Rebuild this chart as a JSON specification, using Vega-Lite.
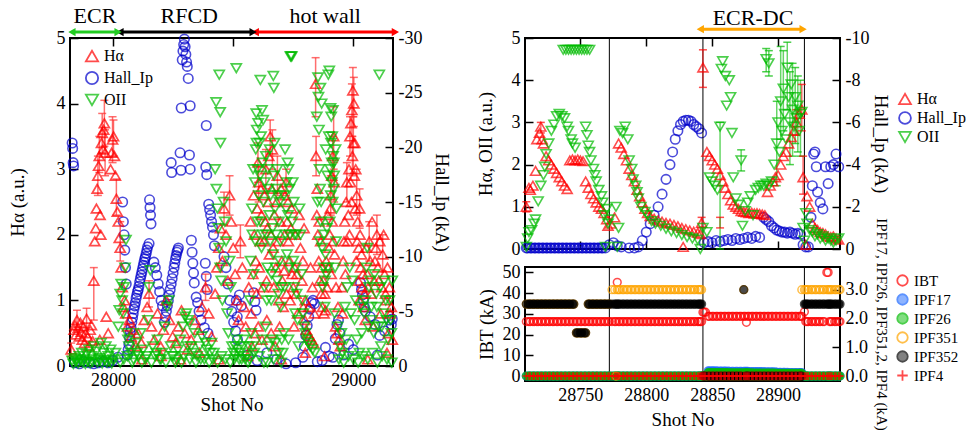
{
"$schema":"https://vega.github.io/schema/vega-lite/v6.json",
"background":"white",
"padding":{"left":7,"top":4,"right":0,"bottom":0},
"config":{
 "font":"Liberation Serif",
 "view":{"stroke":"#000","strokeWidth":2},
 "axis":{"labelFont":"Liberation Serif","titleFont":"Liberation Serif","labelFontSize":18,"titleFontSize":19,"titleFontWeight":"normal","labelFontWeight":"normal","labelColor":"#000","titleColor":"#000","grid":false,"domain":false,"tickColor":"#000","tickWidth":1.5,"tickSize":-8,"labelPadding":13,"titlePadding":6},
 "legend":{"labelFont":"Liberation Serif","labelFontSize":16,"labelColor":"#000","symbolStrokeWidth":1.8,"symbolSize":170,"rowPadding":3},
 "text":{"font":"Liberation Serif"}
},
"datasets":{
 "annL":[{"seg":"ECR","a":27829,"b":28021,"m":27925},{"seg":"RFCD","a":28029,"b":28583,"m":28317},{"seg":"hot wall","a":28592,"b":29175,"m":28883}],
 "annR":[{"seg":"ECR-DC","a":28841,"b":28919,"m":28881}],
 "vl":[{"s":28772},{"s":28843},{"s":28920}],
 "leftErr":[{"s":27826,"lo":0.15,"hi":0.35},{"s":27850,"lo":0.55,"hi":0.85},{"s":27890,"lo":0.58,"hi":0.88},{"s":27920,"lo":0.7,"hi":1.5},{"s":27937,"lo":2.6,"hi":3.2},{"s":27943,"lo":2.95,"hi":3.5},{"s":27955,"lo":3.25,"hi":3.85},{"s":27964,"lo":3.35,"hi":4.05},{"s":27967,"lo":2.9,"hi":3.6},{"s":27998,"lo":3.1,"hi":3.8},{"s":28002,"lo":3.2,"hi":3.75},{"s":28014,"lo":2.3,"hi":2.85},{"s":28030,"lo":1.6,"hi":2.2},{"s":28150,"lo":0.9,"hi":1.3},{"s":28385,"lo":1.0,"hi":1.4},{"s":28462,"lo":2.15,"hi":2.65},{"s":28485,"lo":2.3,"hi":2.9},{"s":28530,"lo":1.65,"hi":2.15},{"s":28606,"lo":2.5,"hi":3.05},{"s":28636,"lo":2.7,"hi":3.3},{"s":28654,"lo":3.2,"hi":3.75},{"s":28684,"lo":2.6,"hi":3.2},{"s":28720,"lo":2.6,"hi":3.0},{"s":28843,"lo":3.8,"hi":4.7},{"s":28906,"lo":2.3,"hi":2.9},{"s":28914,"lo":2.9,"hi":3.5},{"s":28918,"lo":3.0,"hi":3.95},{"s":28986,"lo":3.2,"hi":3.8},{"s":28994,"lo":3.5,"hi":4.3},{"s":28998,"lo":3.8,"hi":4.55},{"s":29002,"lo":3.65,"hi":4.4},{"s":29014,"lo":2.3,"hi":3.0},{"s":29026,"lo":2.1,"hi":2.7},{"s":29066,"lo":1.6,"hi":2.2},{"s":29098,"lo":1.7,"hi":2.3},{"s":29122,"lo":1.45,"hi":2.0},{"s":28996,"lo":2.9,"hi":3.5},{"s":29000,"lo":3.0,"hi":3.8},{"s":28973,"lo":2.5,"hi":3.1},{"s":28920,"lo":2.5,"hi":3.1},{"s":28845,"lo":2.9,"hi":3.5},{"s":28663,"lo":3.0,"hi":3.6},{"s":28603,"lo":2.8,"hi":3.4}],
 "left":[
{"s":27826,"v":0.25,"k":"Hα"},{"s":27838,"v":0.55,"k":"Hα"},{"s":27842,"v":0.62,"k":"Hα"},{"s":27846,"v":0.48,"k":"Hα"},{"s":27850,"v":0.7,"k":"Hα"},{"s":27855,"v":0.58,"k":"Hα"},{"s":27860,"v":0.45,"k":"Hα"},{"s":27864,"v":0.66,"k":"Hα"},{"s":27868,"v":0.52,"k":"Hα"},{"s":27872,"v":0.4,"k":"Hα"},{"s":27877,"v":0.6,"k":"Hα"},{"s":27882,"v":0.35,"k":"Hα"},{"s":27886,"v":0.5,"k":"Hα"},{"s":27890,"v":0.72,"k":"Hα"},{"s":27895,"v":0.44,"k":"Hα"},{"s":27900,"v":0.3,"k":"Hα"},{"s":27905,"v":0.55,"k":"Hα"},{"s":27910,"v":0.62,"k":"Hα"},{"s":27915,"v":0.38,"k":"Hα"},{"s":27945,"v":0.4,"k":"Hα"},{"s":27972,"v":0.75,"k":"Hα"},{"s":27980,"v":0.5,"k":"Hα"},
{"s":27920,"v":1.3,"k":"Hα"},{"s":27924,"v":1.9,"k":"Hα"},{"s":27928,"v":2.1,"k":"Hα"},{"s":27931,"v":2.4,"k":"Hα"},{"s":27934,"v":2.7,"k":"Hα"},{"s":27937,"v":2.9,"k":"Hα"},{"s":27940,"v":3.05,"k":"Hα"},{"s":27943,"v":3.2,"k":"Hα"},{"s":27946,"v":2.3,"k":"Hα"},{"s":27949,"v":2.0,"k":"Hα"},{"s":27952,"v":3.4,"k":"Hα"},{"s":27955,"v":3.55,"k":"Hα"},{"s":27958,"v":3.3,"k":"Hα"},{"s":27961,"v":3.6,"k":"Hα"},{"s":27964,"v":3.7,"k":"Hα"},{"s":27967,"v":3.25,"k":"Hα"},{"s":27990,"v":3.0,"k":"Hα"},{"s":27994,"v":3.25,"k":"Hα"},{"s":27998,"v":3.45,"k":"Hα"},{"s":28002,"v":3.5,"k":"Hα"},{"s":28006,"v":3.2,"k":"Hα"},{"s":28010,"v":2.9,"k":"Hα"},{"s":28014,"v":2.55,"k":"Hα"},{"s":28018,"v":2.35,"k":"Hα"},{"s":28022,"v":2.2,"k":"Hα"},{"s":28026,"v":1.95,"k":"Hα"},{"s":28030,"v":1.8,"k":"Hα"},
{"s":28034,"v":1.5,"k":"Hα"},{"s":28038,"v":1.2,"k":"Hα"},{"s":28043,"v":0.9,"k":"Hα"},{"s":28048,"v":1.0,"k":"Hα"},{"s":28053,"v":0.8,"k":"Hα"},{"s":28060,"v":0.6,"k":"Hα"},{"s":28068,"v":0.7,"k":"Hα"},{"s":28075,"v":0.45,"k":"Hα"},{"s":28085,"v":0.55,"k":"Hα"},{"s":28095,"v":0.3,"k":"Hα"},{"s":28105,"v":0.5,"k":"Hα"},{"s":28118,"v":0.35,"k":"Hα"},{"s":28130,"v":0.7,"k":"Hα"},{"s":28142,"v":0.9,"k":"Hα"},{"s":28150,"v":1.1,"k":"Hα"},{"s":28160,"v":0.6,"k":"Hα"},{"s":28172,"v":0.4,"k":"Hα"},{"s":28185,"v":0.8,"k":"Hα"},{"s":28198,"v":0.3,"k":"Hα"},{"s":28210,"v":0.55,"k":"Hα"},{"s":28222,"v":1.0,"k":"Hα"},{"s":28235,"v":0.7,"k":"Hα"},{"s":28248,"v":0.45,"k":"Hα"},{"s":28260,"v":0.35,"k":"Hα"},{"s":28272,"v":0.6,"k":"Hα"},{"s":28285,"v":0.85,"k":"Hα"},{"s":28298,"v":0.5,"k":"Hα"},{"s":28310,"v":0.25,"k":"Hα"},{"s":28325,"v":0.4,"k":"Hα"},{"s":28340,"v":0.7,"k":"Hα"},{"s":28355,"v":0.55,"k":"Hα"},{"s":28370,"v":0.9,"k":"Hα"},{"s":28385,"v":1.2,"k":"Hα"},{"s":28398,"v":0.8,"k":"Hα"},{"s":28410,"v":0.45,"k":"Hα"},
{"s":28425,"v":1.1,"k":"Hα"},{"s":28432,"v":1.5,"k":"Hα"},{"s":28440,"v":1.8,"k":"Hα"},{"s":28447,"v":2.1,"k":"Hα"},{"s":28455,"v":1.6,"k":"Hα"},{"s":28462,"v":2.4,"k":"Hα"},{"s":28470,"v":2.0,"k":"Hα"},{"s":28478,"v":1.3,"k":"Hα"},{"s":28485,"v":2.6,"k":"Hα"},{"s":28492,"v":2.2,"k":"Hα"},{"s":28500,"v":1.8,"k":"Hα"},{"s":28508,"v":1.4,"k":"Hα"},{"s":28515,"v":1.0,"k":"Hα"},{"s":28522,"v":0.7,"k":"Hα"},{"s":28530,"v":1.9,"k":"Hα"},{"s":28538,"v":1.5,"k":"Hα"},{"s":28545,"v":0.9,"k":"Hα"},{"s":28552,"v":0.6,"k":"Hα"},
{"s":28575,"v":0.8,"k":"Hα"},{"s":28578,"v":0.3,"k":"Hα"},{"s":28582,"v":1.4,"k":"Hα"},{"s":28588,"v":2.0,"k":"Hα"},{"s":28590,"v":0.5,"k":"Hα"},{"s":28594,"v":1.6,"k":"Hα"},{"s":28600,"v":2.4,"k":"Hα"},{"s":28604,"v":0.6,"k":"Hα"},{"s":28606,"v":2.8,"k":"Hα"},{"s":28612,"v":1.9,"k":"Hα"},{"s":28618,"v":2.3,"k":"Hα"},{"s":28620,"v":0.4,"k":"Hα"},{"s":28624,"v":1.2,"k":"Hα"},{"s":28630,"v":2.6,"k":"Hα"},{"s":28636,"v":3.0,"k":"Hα"},{"s":28640,"v":0.7,"k":"Hα"},{"s":28642,"v":2.1,"k":"Hα"},{"s":28648,"v":3.2,"k":"Hα"},{"s":28654,"v":3.5,"k":"Hα"},{"s":28658,"v":0.5,"k":"Hα"},{"s":28660,"v":2.7,"k":"Hα"},{"s":28666,"v":1.8,"k":"Hα"},{"s":28672,"v":2.3,"k":"Hα"},{"s":28675,"v":0.3,"k":"Hα"},{"s":28678,"v":1.5,"k":"Hα"},{"s":28684,"v":2.9,"k":"Hα"},{"s":28690,"v":1.0,"k":"Hα"},{"s":28693,"v":0.6,"k":"Hα"},{"s":28696,"v":2.2,"k":"Hα"},{"s":28702,"v":1.6,"k":"Hα"},{"s":28708,"v":0.9,"k":"Hα"},{"s":28712,"v":1.45,"k":"Hα"},{"s":28716,"v":2.6,"k":"Hα"},{"s":28720,"v":2.8,"k":"Hα"},{"s":28725,"v":2.2,"k":"Hα"},{"s":28730,"v":1.9,"k":"Hα"},{"s":28735,"v":1.6,"k":"Hα"},{"s":28740,"v":2.1,"k":"Hα"},{"s":28745,"v":1.4,"k":"Hα"},{"s":28750,"v":1.2,"k":"Hα"},{"s":28756,"v":1.5,"k":"Hα"},{"s":28762,"v":1.1,"k":"Hα"},{"s":28768,"v":0.8,"k":"Hα"},
{"s":28565,"v":1.2,"k":"Hα"},{"s":28572,"v":2.2,"k":"Hα"},{"s":28585,"v":2.6,"k":"Hα"},{"s":28597,"v":1.1,"k":"Hα"},{"s":28603,"v":3.1,"k":"Hα"},{"s":28609,"v":1.5,"k":"Hα"},{"s":28615,"v":2.7,"k":"Hα"},{"s":28627,"v":1.9,"k":"Hα"},{"s":28633,"v":2.2,"k":"Hα"},{"s":28639,"v":1.3,"k":"Hα"},{"s":28645,"v":2.5,"k":"Hα"},{"s":28651,"v":1.7,"k":"Hα"},{"s":28657,"v":2.0,"k":"Hα"},{"s":28663,"v":3.3,"k":"Hα"},{"s":28669,"v":1.2,"k":"Hα"},{"s":28681,"v":2.5,"k":"Hα"},{"s":28687,"v":1.9,"k":"Hα"},{"s":28699,"v":2.7,"k":"Hα"},{"s":28705,"v":1.3,"k":"Hα"},{"s":28714,"v":2.0,"k":"Hα"},{"s":28722,"v":1.1,"k":"Hα"},{"s":28728,"v":2.5,"k":"Hα"},{"s":28737,"v":1.0,"k":"Hα"},{"s":28743,"v":2.4,"k":"Hα"},{"s":28753,"v":0.6,"k":"Hα"},{"s":28759,"v":2.0,"k":"Hα"},{"s":28765,"v":1.4,"k":"Hα"},
{"s":28774,"v":2.3,"k":"Hα"},{"s":28780,"v":1.8,"k":"Hα"},{"s":28786,"v":1.3,"k":"Hα"},{"s":28792,"v":0.9,"k":"Hα"},{"s":28798,"v":0.7,"k":"Hα"},{"s":28804,"v":0.55,"k":"Hα"},{"s":28810,"v":0.5,"k":"Hα"},{"s":28818,"v":0.45,"k":"Hα"},{"s":28826,"v":0.4,"k":"Hα"},{"s":28834,"v":0.35,"k":"Hα"},{"s":28843,"v":4.3,"k":"Hα"},{"s":28848,"v":2.3,"k":"Hα"},{"s":28852,"v":2.0,"k":"Hα"},{"s":28856,"v":1.6,"k":"Hα"},{"s":28860,"v":1.3,"k":"Hα"},{"s":28866,"v":1.1,"k":"Hα"},{"s":28872,"v":0.9,"k":"Hα"},{"s":28878,"v":0.8,"k":"Hα"},{"s":28884,"v":0.85,"k":"Hα"},{"s":28890,"v":1.2,"k":"Hα"},{"s":28896,"v":1.5,"k":"Hα"},{"s":28902,"v":2.0,"k":"Hα"},{"s":28906,"v":2.6,"k":"Hα"},{"s":28910,"v":2.9,"k":"Hα"},{"s":28914,"v":3.2,"k":"Hα"},{"s":28918,"v":3.5,"k":"Hα"},{"s":28922,"v":1.7,"k":"Hα"},{"s":28926,"v":0.6,"k":"Hα"},{"s":28932,"v":0.5,"k":"Hα"},{"s":28940,"v":0.4,"k":"Hα"},{"s":28946,"v":0.3,"k":"Hα"},
{"s":28790,"v":1.6,"k":"Hα"},{"s":28795,"v":2.1,"k":"Hα"},{"s":28800,"v":1.0,"k":"Hα"},{"s":28815,"v":0.9,"k":"Hα"},{"s":28822,"v":1.5,"k":"Hα"},{"s":28830,"v":1.2,"k":"Hα"},{"s":28838,"v":0.8,"k":"Hα"},{"s":28845,"v":3.2,"k":"Hα"},{"s":28850,"v":2.7,"k":"Hα"},{"s":28858,"v":2.2,"k":"Hα"},{"s":28864,"v":1.9,"k":"Hα"},{"s":28869,"v":1.5,"k":"Hα"},{"s":28875,"v":1.3,"k":"Hα"},{"s":28881,"v":1.1,"k":"Hα"},{"s":28887,"v":1.6,"k":"Hα"},{"s":28893,"v":2.3,"k":"Hα"},{"s":28899,"v":1.8,"k":"Hα"},{"s":28904,"v":2.4,"k":"Hα"},{"s":28908,"v":1.4,"k":"Hα"},{"s":28912,"v":2.2,"k":"Hα"},{"s":28916,"v":1.9,"k":"Hα"},{"s":28920,"v":2.8,"k":"Hα"},{"s":28928,"v":1.2,"k":"Hα"},{"s":28936,"v":0.9,"k":"Hα"},
{"s":28952,"v":1.2,"k":"Hα"},{"s":28958,"v":1.6,"k":"Hα"},{"s":28964,"v":2.2,"k":"Hα"},{"s":28970,"v":2.5,"k":"Hα"},{"s":28976,"v":1.9,"k":"Hα"},{"s":28982,"v":3.0,"k":"Hα"},{"s":28986,"v":3.5,"k":"Hα"},{"s":28990,"v":3.7,"k":"Hα"},{"s":28994,"v":3.9,"k":"Hα"},{"s":28998,"v":4.2,"k":"Hα"},{"s":29002,"v":4.0,"k":"Hα"},{"s":29006,"v":3.4,"k":"Hα"},{"s":29010,"v":3.0,"k":"Hα"},{"s":29014,"v":2.6,"k":"Hα"},{"s":29018,"v":2.2,"k":"Hα"},{"s":29022,"v":1.8,"k":"Hα"},{"s":29026,"v":2.4,"k":"Hα"},{"s":29030,"v":1.5,"k":"Hα"},{"s":29036,"v":1.2,"k":"Hα"},{"s":29042,"v":0.9,"k":"Hα"},{"s":29050,"v":0.7,"k":"Hα"},{"s":29058,"v":1.4,"k":"Hα"},{"s":29066,"v":1.9,"k":"Hα"},{"s":29074,"v":1.1,"k":"Hα"},{"s":29082,"v":0.6,"k":"Hα"},{"s":29090,"v":1.6,"k":"Hα"},{"s":29098,"v":2.0,"k":"Hα"},{"s":29106,"v":1.3,"k":"Hα"},{"s":29114,"v":0.8,"k":"Hα"},{"s":29122,"v":1.7,"k":"Hα"},{"s":29130,"v":1.4,"k":"Hα"},{"s":29138,"v":1.0,"k":"Hα"},{"s":29146,"v":0.5,"k":"Hα"},{"s":29154,"v":0.8,"k":"Hα"},{"s":29162,"v":0.4,"k":"Hα"},
{"s":28955,"v":0.8,"k":"Hα"},{"s":28961,"v":1.9,"k":"Hα"},{"s":28967,"v":1.4,"k":"Hα"},{"s":28973,"v":2.8,"k":"Hα"},{"s":28979,"v":2.3,"k":"Hα"},{"s":28984,"v":2.0,"k":"Hα"},{"s":28988,"v":2.8,"k":"Hα"},{"s":28992,"v":2.5,"k":"Hα"},{"s":28996,"v":3.2,"k":"Hα"},{"s":29000,"v":3.4,"k":"Hα"},{"s":29004,"v":2.9,"k":"Hα"},{"s":29008,"v":2.4,"k":"Hα"},{"s":29012,"v":1.6,"k":"Hα"},{"s":29016,"v":1.9,"k":"Hα"},{"s":29020,"v":1.3,"k":"Hα"},{"s":29024,"v":1.0,"k":"Hα"},{"s":29028,"v":2.0,"k":"Hα"},{"s":29034,"v":1.7,"k":"Hα"},{"s":29040,"v":1.4,"k":"Hα"},{"s":29046,"v":1.1,"k":"Hα"},{"s":29054,"v":1.8,"k":"Hα"},{"s":29062,"v":1.2,"k":"Hα"},{"s":29070,"v":1.6,"k":"Hα"},{"s":29078,"v":2.2,"k":"Hα"},{"s":29086,"v":1.3,"k":"Hα"},{"s":29094,"v":1.8,"k":"Hα"},{"s":29102,"v":1.5,"k":"Hα"},{"s":29110,"v":1.9,"k":"Hα"},{"s":29118,"v":1.2,"k":"Hα"},{"s":29126,"v":2.0,"k":"Hα"},{"s":29134,"v":1.1,"k":"Hα"},{"s":29142,"v":1.5,"k":"Hα"},{"s":29150,"v":1.2,"k":"Hα"},{"s":29158,"v":0.9,"k":"Hα"},
{"s":28120,"v":0.1,"k":"Hα"},{"s":28200,"v":0.15,"k":"Hα"},{"s":28280,"v":0.1,"k":"Hα"},{"s":28360,"v":0.2,"k":"Hα"},{"s":28440,"v":0.1,"k":"Hα"},{"s":28560,"v":0.15,"k":"Hα"},{"s":28700,"v":0.1,"k":"Hα"},{"s":28800,"v":0.2,"k":"Hα"},{"s":28880,"v":0.15,"k":"Hα"},{"s":29060,"v":0.1,"k":"Hα"},{"s":29140,"v":0.2,"k":"Hα"},
{"s":27830,"v":-20.4,"k":"Hall_Ip"},{"s":27832,"v":-19.9,"k":"Hall_Ip"},{"s":27834,"v":-18.6,"k":"Hall_Ip"},{"s":27836,"v":-18.3,"k":"Hall_Ip"},{"s":27840,"v":-0.3,"k":"Hall_Ip"},{"s":27860,"v":-0.2,"k":"Hall_Ip"},{"s":27880,"v":-0.4,"k":"Hall_Ip"},{"s":27900,"v":-0.3,"k":"Hall_Ip"},{"s":27920,"v":-0.2,"k":"Hall_Ip"},{"s":27940,"v":-0.3,"k":"Hall_Ip"},{"s":27960,"v":-0.4,"k":"Hall_Ip"},{"s":27980,"v":-0.3,"k":"Hall_Ip"},{"s":28000,"v":-0.5,"k":"Hall_Ip"},{"s":28020,"v":-0.8,"k":"Hall_Ip"},
{"s":28040,"v":-15.0,"k":"Hall_Ip"},{"s":28043,"v":-13.2,"k":"Hall_Ip"},{"s":28046,"v":-12.0,"k":"Hall_Ip"},{"s":28049,"v":-10.6,"k":"Hall_Ip"},{"s":28052,"v":-9.0,"k":"Hall_Ip"},{"s":28055,"v":-7.5,"k":"Hall_Ip"},
{"s":28060,"v":-1.0,"k":"Hall_Ip"},{"s":28066,"v":-2.0,"k":"Hall_Ip"},{"s":28072,"v":-3.1,"k":"Hall_Ip"},{"s":28078,"v":-4.0,"k":"Hall_Ip"},{"s":28084,"v":-4.8,"k":"Hall_Ip"},{"s":28090,"v":-5.5,"k":"Hall_Ip"},{"s":28096,"v":-6.2,"k":"Hall_Ip"},{"s":28102,"v":-6.8,"k":"Hall_Ip"},{"s":28108,"v":-7.3,"k":"Hall_Ip"},{"s":28114,"v":-8.0,"k":"Hall_Ip"},{"s":28120,"v":-8.6,"k":"Hall_Ip"},{"s":28126,"v":-9.2,"k":"Hall_Ip"},{"s":28132,"v":-9.8,"k":"Hall_Ip"},{"s":28138,"v":-10.3,"k":"Hall_Ip"},{"s":28144,"v":-10.9,"k":"Hall_Ip"},{"s":28150,"v":-11.2,"k":"Hall_Ip"},
{"s":28063,"v":-1.5,"k":"Hall_Ip"},{"s":28069,"v":-2.6,"k":"Hall_Ip"},{"s":28075,"v":-3.5,"k":"Hall_Ip"},{"s":28081,"v":-4.4,"k":"Hall_Ip"},{"s":28087,"v":-5.2,"k":"Hall_Ip"},{"s":28093,"v":-5.8,"k":"Hall_Ip"},{"s":28099,"v":-6.5,"k":"Hall_Ip"},{"s":28105,"v":-7.0,"k":"Hall_Ip"},{"s":28111,"v":-7.7,"k":"Hall_Ip"},{"s":28117,"v":-8.3,"k":"Hall_Ip"},{"s":28123,"v":-8.9,"k":"Hall_Ip"},{"s":28129,"v":-9.5,"k":"Hall_Ip"},{"s":28135,"v":-10.0,"k":"Hall_Ip"},{"s":28141,"v":-10.6,"k":"Hall_Ip"},
{"s":28152,"v":-15.2,"k":"Hall_Ip"},{"s":28154,"v":-14.5,"k":"Hall_Ip"},{"s":28156,"v":-13.8,"k":"Hall_Ip"},{"s":28158,"v":-13.0,"k":"Hall_Ip"},
{"s":28170,"v":-9.5,"k":"Hall_Ip"},{"s":28176,"v":-9.0,"k":"Hall_Ip"},{"s":28182,"v":-8.3,"k":"Hall_Ip"},{"s":28188,"v":-7.5,"k":"Hall_Ip"},{"s":28194,"v":-6.8,"k":"Hall_Ip"},{"s":28200,"v":-6.0,"k":"Hall_Ip"},{"s":28206,"v":-5.5,"k":"Hall_Ip"},
{"s":28214,"v":-4.0,"k":"Hall_Ip"},{"s":28222,"v":-5.0,"k":"Hall_Ip"},{"s":28230,"v":-6.0,"k":"Hall_Ip"},{"s":28238,"v":-7.0,"k":"Hall_Ip"},{"s":28246,"v":-8.0,"k":"Hall_Ip"},{"s":28254,"v":-9.0,"k":"Hall_Ip"},{"s":28260,"v":-9.8,"k":"Hall_Ip"},{"s":28266,"v":-10.4,"k":"Hall_Ip"},{"s":28272,"v":-10.8,"k":"Hall_Ip"},
{"s":28218,"v":-4.5,"k":"Hall_Ip"},{"s":28226,"v":-5.5,"k":"Hall_Ip"},{"s":28234,"v":-6.5,"k":"Hall_Ip"},{"s":28242,"v":-7.5,"k":"Hall_Ip"},{"s":28250,"v":-8.5,"k":"Hall_Ip"},{"s":28257,"v":-9.4,"k":"Hall_Ip"},{"s":28263,"v":-10.1,"k":"Hall_Ip"},{"s":28269,"v":-10.6,"k":"Hall_Ip"},
{"s":28242,"v":-18.6,"k":"Hall_Ip"},{"s":28244,"v":-17.7,"k":"Hall_Ip"},{"s":28279,"v":-19.5,"k":"Hall_Ip"},{"s":28283,"v":-17.9,"k":"Hall_Ip"},{"s":28318,"v":-19.3,"k":"Hall_Ip"},{"s":28321,"v":-18.0,"k":"Hall_Ip"},
{"s":28284,"v":-23.6,"k":"Hall_Ip"},{"s":28288,"v":-28.0,"k":"Hall_Ip"},{"s":28291,"v":-28.8,"k":"Hall_Ip"},{"s":28294,"v":-29.4,"k":"Hall_Ip"},{"s":28297,"v":-29.9,"k":"Hall_Ip"},{"s":28300,"v":-29.2,"k":"Hall_Ip"},{"s":28303,"v":-28.5,"k":"Hall_Ip"},{"s":28306,"v":-27.8,"k":"Hall_Ip"},{"s":28309,"v":-27.4,"k":"Hall_Ip"},{"s":28313,"v":-26.3,"k":"Hall_Ip"},{"s":28321,"v":-23.8,"k":"Hall_Ip"},{"s":28388,"v":-22.0,"k":"Hall_Ip"},
{"s":28326,"v":-11.5,"k":"Hall_Ip"},{"s":28329,"v":-10.4,"k":"Hall_Ip"},{"s":28332,"v":-9.4,"k":"Hall_Ip"},{"s":28335,"v":-8.5,"k":"Hall_Ip"},{"s":28338,"v":-7.6,"k":"Hall_Ip"},
{"s":28386,"v":-18.2,"k":"Hall_Ip"},{"s":28390,"v":-17.5,"k":"Hall_Ip"},{"s":28384,"v":-9.4,"k":"Hall_Ip"},{"s":28388,"v":-8.2,"k":"Hall_Ip"},{"s":28392,"v":-7.0,"k":"Hall_Ip"},{"s":28346,"v":-6.3,"k":"Hall_Ip"},{"s":28352,"v":-5.8,"k":"Hall_Ip"},
{"s":28398,"v":-14.8,"k":"Hall_Ip"},{"s":28402,"v":-14.3,"k":"Hall_Ip"},{"s":28406,"v":-13.8,"k":"Hall_Ip"},{"s":28410,"v":-13.2,"k":"Hall_Ip"},{"s":28414,"v":-12.7,"k":"Hall_Ip"},{"s":28418,"v":-12.0,"k":"Hall_Ip"},{"s":28422,"v":-11.0,"k":"Hall_Ip"},
{"s":28358,"v":-5.0,"k":"Hall_Ip"},{"s":28366,"v":-4.2,"k":"Hall_Ip"},{"s":28380,"v":-3.5,"k":"Hall_Ip"},{"s":28395,"v":-3.0,"k":"Hall_Ip"},
{"s":28462,"v":-10.0,"k":"Hall_Ip"},{"s":28470,"v":-9.0,"k":"Hall_Ip"},{"s":28478,"v":-7.5,"k":"Hall_Ip"},{"s":28486,"v":-6.0,"k":"Hall_Ip"},{"s":28494,"v":-5.0,"k":"Hall_Ip"},{"s":28502,"v":-4.0,"k":"Hall_Ip"},{"s":28510,"v":-3.2,"k":"Hall_Ip"},{"s":28518,"v":-2.4,"k":"Hall_Ip"},{"s":28526,"v":-6.5,"k":"Hall_Ip"},{"s":28534,"v":-5.5,"k":"Hall_Ip"},{"s":28513,"v":-6.0,"k":"Hall_Ip"},{"s":28517,"v":-4.5,"k":"Hall_Ip"},
{"s":28585,"v":-6.7,"k":"Hall_Ip"},{"s":28590,"v":-5.9,"k":"Hall_Ip"},{"s":28595,"v":-5.1,"k":"Hall_Ip"},
{"s":28560,"v":-1.0,"k":"Hall_Ip"},{"s":28600,"v":-0.5,"k":"Hall_Ip"},{"s":28640,"v":-1.2,"k":"Hall_Ip"},{"s":28680,"v":-0.6,"k":"Hall_Ip"},{"s":28720,"v":-0.2,"k":"Hall_Ip"},{"s":28760,"v":-0.3,"k":"Hall_Ip"},
{"s":28790,"v":-0.8,"k":"Hall_Ip"},{"s":28796,"v":-1.8,"k":"Hall_Ip"},{"s":28802,"v":-2.8,"k":"Hall_Ip"},{"s":28808,"v":-3.7,"k":"Hall_Ip"},{"s":28814,"v":-4.5,"k":"Hall_Ip"},{"s":28820,"v":-5.2,"k":"Hall_Ip"},{"s":28826,"v":-5.8,"k":"Hall_Ip"},{"s":28832,"v":-6.0,"k":"Hall_Ip"},{"s":28838,"v":-5.7,"k":"Hall_Ip"},{"s":28850,"v":-0.4,"k":"Hall_Ip"},{"s":28870,"v":-0.5,"k":"Hall_Ip"},{"s":28884,"v":-1.7,"k":"Hall_Ip"},{"s":28900,"v":-0.9,"k":"Hall_Ip"},{"s":28915,"v":-0.8,"k":"Hall_Ip"},{"s":28925,"v":-2.5,"k":"Hall_Ip"},{"s":28932,"v":-3.8,"k":"Hall_Ip"},{"s":28938,"v":-4.2,"k":"Hall_Ip"},{"s":28944,"v":-3.0,"k":"Hall_Ip"},
{"s":28960,"v":-1.0,"k":"Hall_Ip"},{"s":28980,"v":-2.0,"k":"Hall_Ip"},{"s":29000,"v":-1.5,"k":"Hall_Ip"},
{"s":29030,"v":-7.6,"k":"Hall_Ip"},{"s":29034,"v":-7.0,"k":"Hall_Ip"},{"s":29038,"v":-6.5,"k":"Hall_Ip"},{"s":29042,"v":-6.0,"k":"Hall_Ip"},{"s":29046,"v":-5.4,"k":"Hall_Ip"},{"s":29050,"v":-5.0,"k":"Hall_Ip"},{"s":29070,"v":-4.5,"k":"Hall_Ip"},{"s":29090,"v":-3.8,"k":"Hall_Ip"},{"s":29100,"v":-1.0,"k":"Hall_Ip"},{"s":29110,"v":-2.8,"k":"Hall_Ip"},{"s":29130,"v":-3.2,"k":"Hall_Ip"},{"s":29150,"v":-4.2,"k":"Hall_Ip"},{"s":29158,"v":-3.8,"k":"Hall_Ip"},{"s":29162,"v":-4.3,"k":"Hall_Ip"},
{"s":27830,"v":0.08,"k":"OII"},{"s":27840,"v":0.12,"k":"OII"},{"s":27850,"v":0.1,"k":"OII"},{"s":27860,"v":0.15,"k":"OII"},{"s":27870,"v":0.2,"k":"OII"},{"s":27880,"v":0.1,"k":"OII"},{"s":27890,"v":0.18,"k":"OII"},{"s":27900,"v":0.25,"k":"OII"},{"s":27910,"v":0.15,"k":"OII"},{"s":27920,"v":0.3,"k":"OII"},{"s":27930,"v":0.22,"k":"OII"},{"s":27940,"v":0.12,"k":"OII"},{"s":27950,"v":0.35,"k":"OII"},{"s":27960,"v":0.2,"k":"OII"},{"s":27970,"v":0.3,"k":"OII"},{"s":27980,"v":0.15,"k":"OII"},{"s":27990,"v":0.25,"k":"OII"},{"s":28000,"v":0.1,"k":"OII"},{"s":28010,"v":0.2,"k":"OII"},
{"s":27835,"v":0.03,"k":"OII"},{"s":27845,"v":0.06,"k":"OII"},{"s":27855,"v":0.04,"k":"OII"},{"s":27865,"v":0.08,"k":"OII"},{"s":27875,"v":0.05,"k":"OII"},{"s":27885,"v":0.03,"k":"OII"},{"s":27895,"v":0.07,"k":"OII"},{"s":27905,"v":0.04,"k":"OII"},{"s":27915,"v":0.06,"k":"OII"},{"s":27925,"v":0.1,"k":"OII"},{"s":27935,"v":0.05,"k":"OII"},{"s":27945,"v":0.08,"k":"OII"},{"s":27955,"v":0.04,"k":"OII"},{"s":27965,"v":0.09,"k":"OII"},{"s":27975,"v":0.05,"k":"OII"},{"s":27985,"v":0.07,"k":"OII"},{"s":27995,"v":0.04,"k":"OII"},
{"s":28022,"v":0.6,"k":"OII"},{"s":28026,"v":0.85,"k":"OII"},{"s":28030,"v":1.1,"k":"OII"},{"s":28034,"v":1.25,"k":"OII"},{"s":28038,"v":1.0,"k":"OII"},{"s":28042,"v":0.8,"k":"OII"},{"s":28046,"v":1.2,"k":"OII"},{"s":28050,"v":1.5,"k":"OII"},{"s":28054,"v":1.92,"k":"OII"},{"s":28058,"v":0.5,"k":"OII"},{"s":28062,"v":0.4,"k":"OII"},{"s":28066,"v":0.3,"k":"OII"},
{"s":28075,"v":0.2,"k":"OII"},{"s":28085,"v":0.1,"k":"OII"},{"s":28095,"v":0.35,"k":"OII"},{"s":28105,"v":0.15,"k":"OII"},{"s":28115,"v":0.5,"k":"OII"},{"s":28125,"v":0.25,"k":"OII"},{"s":28135,"v":0.1,"k":"OII"},{"s":28145,"v":0.7,"k":"OII"},{"s":28150,"v":1.2,"k":"OII"},{"s":28155,"v":1.46,"k":"OII"},{"s":28165,"v":0.3,"k":"OII"},{"s":28175,"v":0.15,"k":"OII"},{"s":28185,"v":0.4,"k":"OII"},{"s":28195,"v":0.1,"k":"OII"},{"s":28205,"v":0.2,"k":"OII"},{"s":28215,"v":0.6,"k":"OII"},{"s":28225,"v":0.9,"k":"OII"},{"s":28232,"v":1.0,"k":"OII"},{"s":28240,"v":0.3,"k":"OII"},{"s":28250,"v":0.15,"k":"OII"},{"s":28260,"v":0.05,"k":"OII"},{"s":28270,"v":0.25,"k":"OII"},{"s":28280,"v":0.4,"k":"OII"},{"s":28290,"v":0.6,"k":"OII"},{"s":28300,"v":0.75,"k":"OII"},{"s":28305,"v":0.8,"k":"OII"},{"s":28312,"v":0.7,"k":"OII"},{"s":28318,"v":0.65,"k":"OII"},{"s":28310,"v":0.3,"k":"OII"},{"s":28320,"v":0.1,"k":"OII"},{"s":28330,"v":0.2,"k":"OII"},{"s":28340,"v":0.5,"k":"OII"},{"s":28350,"v":0.15,"k":"OII"},{"s":28360,"v":0.3,"k":"OII"},{"s":28370,"v":0.45,"k":"OII"},{"s":28380,"v":0.1,"k":"OII"},{"s":28390,"v":0.25,"k":"OII"},{"s":28400,"v":0.05,"k":"OII"},{"s":28410,"v":0.35,"k":"OII"},{"s":28420,"v":0.2,"k":"OII"},
{"s":28030,"v":0.05,"k":"OII"},{"s":28045,"v":0.1,"k":"OII"},{"s":28060,"v":0.15,"k":"OII"},{"s":28080,"v":0.05,"k":"OII"},{"s":28100,"v":0.2,"k":"OII"},{"s":28120,"v":0.05,"k":"OII"},{"s":28140,"v":0.15,"k":"OII"},{"s":28160,"v":0.05,"k":"OII"},{"s":28180,"v":0.2,"k":"OII"},{"s":28200,"v":0.1,"k":"OII"},{"s":28220,"v":0.05,"k":"OII"},{"s":28245,"v":0.15,"k":"OII"},{"s":28265,"v":0.1,"k":"OII"},{"s":28285,"v":0.05,"k":"OII"},{"s":28295,"v":0.15,"k":"OII"},{"s":28325,"v":0.3,"k":"OII"},{"s":28345,"v":0.05,"k":"OII"},{"s":28365,"v":0.1,"k":"OII"},{"s":28385,"v":0.35,"k":"OII"},{"s":28405,"v":0.2,"k":"OII"},{"s":28415,"v":0.1,"k":"OII"},{"s":28435,"v":0.05,"k":"OII"},{"s":28452,"v":0.15,"k":"OII"},{"s":28468,"v":0.1,"k":"OII"},{"s":28488,"v":0.05,"k":"OII"},{"s":28508,"v":0.3,"k":"OII"},{"s":28535,"v":0.1,"k":"OII"},{"s":28545,"v":0.4,"k":"OII"},{"s":28555,"v":0.15,"k":"OII"},{"s":28562,"v":0.05,"k":"OII"},
{"s":28425,"v":3.0,"k":"OII"},{"s":28430,"v":2.7,"k":"OII"},{"s":28434,"v":2.4,"k":"OII"},{"s":28438,"v":2.1,"k":"OII"},{"s":28442,"v":1.8,"k":"OII"},{"s":28446,"v":1.5,"k":"OII"},{"s":28450,"v":1.3,"k":"OII"},{"s":28455,"v":1.0,"k":"OII"},{"s":28460,"v":2.5,"k":"OII"},{"s":28465,"v":2.2,"k":"OII"},{"s":28470,"v":1.9,"k":"OII"},{"s":28475,"v":0.8,"k":"OII"},{"s":28480,"v":0.5,"k":"OII"},{"s":28485,"v":1.6,"k":"OII"},{"s":28490,"v":1.2,"k":"OII"},{"s":28495,"v":0.3,"k":"OII"},{"s":28500,"v":0.2,"k":"OII"},{"s":28505,"v":0.1,"k":"OII"},{"s":28510,"v":0.15,"k":"OII"},{"s":28515,"v":0.4,"k":"OII"},{"s":28520,"v":0.25,"k":"OII"},{"s":28525,"v":0.1,"k":"OII"},{"s":28530,"v":0.2,"k":"OII"},{"s":28540,"v":0.3,"k":"OII"},{"s":28550,"v":0.1,"k":"OII"},
{"s":28429,"v":4.02,"k":"OII"},{"s":28442,"v":4.44,"k":"OII"},{"s":28446,"v":3.87,"k":"OII"},{"s":28447,"v":3.4,"k":"OII"},{"s":28513,"v":4.54,"k":"OII"},
{"s":28596,"v":3.85,"k":"OII"},{"s":28613,"v":4.36,"k":"OII"},{"s":28625,"v":3.75,"k":"OII"},{"s":28620,"v":3.9,"k":"OII"},{"s":28667,"v":4.42,"k":"OII"},{"s":28669,"v":4.24,"k":"OII"},{"s":28597,"v":3.4,"k":"OII"},
{"s":28565,"v":0.3,"k":"OII"},{"s":28570,"v":1.0,"k":"OII"},{"s":28575,"v":0.5,"k":"OII"},{"s":28580,"v":2.0,"k":"OII"},{"s":28585,"v":1.4,"k":"OII"},{"s":28590,"v":2.8,"k":"OII"},{"s":28594,"v":3.3,"k":"OII"},{"s":28598,"v":3.6,"k":"OII"},{"s":28602,"v":3.0,"k":"OII"},{"s":28606,"v":2.6,"k":"OII"},{"s":28610,"v":3.4,"k":"OII"},{"s":28614,"v":2.2,"k":"OII"},{"s":28618,"v":1.8,"k":"OII"},{"s":28622,"v":3.1,"k":"OII"},{"s":28626,"v":2.5,"k":"OII"},{"s":28630,"v":1.2,"k":"OII"},{"s":28634,"v":0.6,"k":"OII"},{"s":28638,"v":2.0,"k":"OII"},{"s":28642,"v":1.5,"k":"OII"},{"s":28646,"v":2.7,"k":"OII"},{"s":28650,"v":2.3,"k":"OII"},{"s":28654,"v":1.9,"k":"OII"},{"s":28658,"v":1.0,"k":"OII"},{"s":28662,"v":0.4,"k":"OII"},{"s":28666,"v":1.7,"k":"OII"},{"s":28670,"v":2.9,"k":"OII"},{"s":28674,"v":2.4,"k":"OII"},{"s":28678,"v":2.0,"k":"OII"},{"s":28682,"v":1.3,"k":"OII"},{"s":28686,"v":2.6,"k":"OII"},{"s":28690,"v":2.2,"k":"OII"},{"s":28694,"v":1.6,"k":"OII"},{"s":28698,"v":0.9,"k":"OII"},{"s":28702,"v":0.4,"k":"OII"},{"s":28706,"v":0.2,"k":"OII"},{"s":28710,"v":0.5,"k":"OII"},{"s":28714,"v":1.2,"k":"OII"},{"s":28718,"v":2.0,"k":"OII"},{"s":28722,"v":2.8,"k":"OII"},{"s":28726,"v":3.1,"k":"OII"},{"s":28730,"v":3.0,"k":"OII"},{"s":28734,"v":2.7,"k":"OII"},{"s":28738,"v":4.72,"k":"OII"},{"s":28741,"v":4.72,"k":"OII"},{"s":28744,"v":4.72,"k":"OII"},{"s":28748,"v":2.8,"k":"OII"},{"s":28752,"v":2.5,"k":"OII"},{"s":28756,"v":2.0,"k":"OII"},{"s":28760,"v":1.5,"k":"OII"},{"s":28764,"v":1.1,"k":"OII"},{"s":28768,"v":0.7,"k":"OII"},{"s":28772,"v":0.3,"k":"OII"},{"s":28776,"v":2.4,"k":"OII"},{"s":28780,"v":2.0,"k":"OII"},{"s":28784,"v":1.4,"k":"OII"},{"s":28788,"v":1.0,"k":"OII"},{"s":28792,"v":0.8,"k":"OII"},{"s":28796,"v":0.6,"k":"OII"},{"s":28800,"v":0.5,"k":"OII"},{"s":28805,"v":0.4,"k":"OII"},{"s":28812,"v":0.35,"k":"OII"},{"s":28820,"v":0.3,"k":"OII"},{"s":28830,"v":0.25,"k":"OII"},{"s":28840,"v":0.2,"k":"OII"},
{"s":28572,"v":1.6,"k":"OII"},{"s":28578,"v":2.4,"k":"OII"},{"s":28583,"v":3.0,"k":"OII"},{"s":28592,"v":1.9,"k":"OII"},{"s":28600,"v":2.2,"k":"OII"},{"s":28604,"v":3.7,"k":"OII"},{"s":28612,"v":2.9,"k":"OII"},{"s":28616,"v":3.5,"k":"OII"},{"s":28624,"v":2.0,"k":"OII"},{"s":28632,"v":2.8,"k":"OII"},{"s":28636,"v":3.2,"k":"OII"},{"s":28640,"v":1.0,"k":"OII"},{"s":28644,"v":3.0,"k":"OII"},{"s":28652,"v":3.3,"k":"OII"},{"s":28656,"v":2.6,"k":"OII"},{"s":28660,"v":1.4,"k":"OII"},{"s":28664,"v":2.1,"k":"OII"},{"s":28672,"v":3.4,"k":"OII"},{"s":28676,"v":1.5,"k":"OII"},{"s":28680,"v":2.7,"k":"OII"},{"s":28684,"v":3.0,"k":"OII"},{"s":28688,"v":1.1,"k":"OII"},{"s":28692,"v":2.5,"k":"OII"},{"s":28696,"v":1.9,"k":"OII"},{"s":28700,"v":1.2,"k":"OII"},{"s":28712,"v":2.6,"k":"OII"},{"s":28716,"v":3.3,"k":"OII"},{"s":28720,"v":2.4,"k":"OII"},{"s":28724,"v":1.7,"k":"OII"},{"s":28728,"v":2.3,"k":"OII"},{"s":28732,"v":1.5,"k":"OII"},{"s":28736,"v":2.0,"k":"OII"},{"s":28746,"v":2.2,"k":"OII"},{"s":28750,"v":1.6,"k":"OII"},{"s":28754,"v":1.2,"k":"OII"},{"s":28758,"v":0.8,"k":"OII"},{"s":28762,"v":2.0,"k":"OII"},
{"s":28568,"v":0.1,"k":"OII"},{"s":28588,"v":0.2,"k":"OII"},{"s":28608,"v":0.15,"k":"OII"},{"s":28628,"v":0.05,"k":"OII"},{"s":28648,"v":0.3,"k":"OII"},{"s":28668,"v":0.1,"k":"OII"},{"s":28688,"v":0.2,"k":"OII"},{"s":28582,"v":0.3,"k":"OII"},{"s":28618,"v":0.4,"k":"OII"},{"s":28642,"v":0.05,"k":"OII"},{"s":28676,"v":0.35,"k":"OII"},{"s":28700,"v":0.05,"k":"OII"},{"s":28730,"v":0.4,"k":"OII"},
{"s":28853,"v":4.4,"k":"OII"},{"s":28855,"v":4.1,"k":"OII"},{"s":28857,"v":3.6,"k":"OII"},{"s":28859,"v":3.0,"k":"OII"},{"s":28862,"v":2.7,"k":"OII"},{"s":28866,"v":2.5,"k":"OII"},{"s":28870,"v":1.8,"k":"OII"},{"s":28876,"v":1.5,"k":"OII"},{"s":28882,"v":1.3,"k":"OII"},{"s":28888,"v":1.4,"k":"OII"},{"s":28894,"v":1.5,"k":"OII"},{"s":28900,"v":4.5,"k":"OII"},{"s":28904,"v":3.0,"k":"OII"},{"s":28908,"v":3.8,"k":"OII"},{"s":28912,"v":3.5,"k":"OII"},{"s":28916,"v":3.2,"k":"OII"},{"s":28918,"v":2.7,"k":"OII"},{"s":28922,"v":0.8,"k":"OII"},{"s":28863,"v":4.24,"k":"OII"},{"s":28896,"v":4.44,"k":"OII"},{"s":28905,"v":3.93,"k":"OII"},{"s":28868,"v":4.0,"k":"OII"},
{"s":28885,"v":3.3,"k":"OII"},{"s":28892,"v":2.9,"k":"OII"},{"s":28898,"v":3.5,"k":"OII"},{"s":28906,"v":2.6,"k":"OII"},{"s":28910,"v":3.1,"k":"OII"},{"s":28914,"v":2.5,"k":"OII"},{"s":28920,"v":2.9,"k":"OII"},{"s":28926,"v":3.3,"k":"OII"},{"s":28930,"v":2.4,"k":"OII"},
{"s":28848,"v":3.8,"k":"OII"},{"s":28851,"v":2.5,"k":"OII"},{"s":28860,"v":1.9,"k":"OII"},{"s":28864,"v":2.2,"k":"OII"},{"s":28872,"v":1.2,"k":"OII"},{"s":28878,"v":2.0,"k":"OII"},{"s":28880,"v":0.9,"k":"OII"},{"s":28884,"v":1.7,"k":"OII"},{"s":28890,"v":2.1,"k":"OII"},{"s":28902,"v":2.2,"k":"OII"},{"s":28907,"v":3.4,"k":"OII"},{"s":28911,"v":2.8,"k":"OII"},{"s":28915,"v":3.9,"k":"OII"},{"s":28919,"v":3.1,"k":"OII"},{"s":28924,"v":1.5,"k":"OII"},{"s":28928,"v":1.9,"k":"OII"},
{"s":28935,"v":0.6,"k":"OII"},{"s":28945,"v":0.3,"k":"OII"},{"s":28955,"v":0.2,"k":"OII"},{"s":28965,"v":0.9,"k":"OII"},{"s":28975,"v":1.2,"k":"OII"},{"s":28985,"v":1.5,"k":"OII"},{"s":28995,"v":1.3,"k":"OII"},{"s":29005,"v":0.7,"k":"OII"},{"s":29015,"v":0.4,"k":"OII"},{"s":29025,"v":0.2,"k":"OII"},{"s":29035,"v":0.5,"k":"OII"},{"s":29045,"v":0.8,"k":"OII"},{"s":29055,"v":1.5,"k":"OII"},{"s":29065,"v":1.2,"k":"OII"},{"s":29075,"v":0.9,"k":"OII"},{"s":29085,"v":0.5,"k":"OII"},{"s":29095,"v":1.1,"k":"OII"},{"s":29105,"v":0.6,"k":"OII"},{"s":29115,"v":0.3,"k":"OII"},{"s":29125,"v":0.8,"k":"OII"},{"s":29135,"v":1.0,"k":"OII"},{"s":29145,"v":0.4,"k":"OII"},{"s":29155,"v":0.7,"k":"OII"},{"s":29162,"v":1.3,"k":"OII"},{"s":29108,"v":4.44,"k":"OII"},
{"s":29050,"v":1.0,"k":"OII"},{"s":29058,"v":1.8,"k":"OII"},{"s":29062,"v":0.6,"k":"OII"},{"s":29070,"v":1.3,"k":"OII"},{"s":29078,"v":0.7,"k":"OII"},{"s":29088,"v":1.4,"k":"OII"},{"s":29098,"v":0.9,"k":"OII"},{"s":29112,"v":1.2,"k":"OII"},{"s":29118,"v":0.6,"k":"OII"},{"s":29128,"v":1.3,"k":"OII"},{"s":29138,"v":0.7,"k":"OII"},{"s":29150,"v":1.0,"k":"OII"},{"s":29158,"v":0.5,"k":"OII"},{"s":28950,"v":0.5,"k":"OII"},{"s":28970,"v":0.4,"k":"OII"},{"s":28990,"v":0.8,"k":"OII"},{"s":29010,"v":1.0,"k":"OII"},{"s":29030,"v":0.9,"k":"OII"},
{"s":28940,"v":0.1,"k":"OII"},{"s":28960,"v":0.05,"k":"OII"},{"s":28980,"v":0.15,"k":"OII"},{"s":29000,"v":0.1,"k":"OII"},{"s":29020,"v":0.05,"k":"OII"},{"s":29040,"v":0.15,"k":"OII"},{"s":29060,"v":0.1,"k":"OII"},{"s":29080,"v":0.2,"k":"OII"},{"s":29100,"v":0.05,"k":"OII"},{"s":29120,"v":0.15,"k":"OII"},{"s":29140,"v":0.1,"k":"OII"},{"s":29160,"v":0.05,"k":"OII"}
 ],
 "rtErr":[{"s":28843,"lo":3.83,"hi":4.72,"k":"Hα"},{"s":28709,"lo":0.88,"hi":1.12,"k":"Hα"},{"s":28720,"lo":2.75,"hi":3.0,"k":"Hα"},{"s":28842,"lo":0.5,"hi":0.75,"k":"Hα"},{"s":28856,"lo":0.5,"hi":0.75,"k":"Hα"},{"s":28919,"lo":1.3,"hi":2.2,"k":"Hα"},{"s":28914,"lo":2.7,"hi":3.3,"k":"Hα"},{"s":28918,"lo":2.8,"hi":3.9,"k":"Hα"},
 {"s":28856,"lo":0.0,"hi":3.0,"k":"OII"},{"s":28872,"lo":1.85,"hi":2.35,"k":"OII"},{"s":28891,"lo":4.2,"hi":4.75,"k":"OII"},{"s":28893,"lo":4.1,"hi":4.7,"k":"OII"},{"s":28899,"lo":1.5,"hi":3.5,"k":"OII"},{"s":28902,"lo":2.6,"hi":4.8,"k":"OII"},{"s":28904,"lo":2.8,"hi":4.7,"k":"OII"},{"s":28907,"lo":3.3,"hi":4.9,"k":"OII"},{"s":28909,"lo":2.0,"hi":4.2,"k":"OII"},{"s":28911,"lo":2.2,"hi":4.4,"k":"OII"},{"s":28913,"lo":2.5,"hi":4.3,"k":"OII"},{"s":28915,"lo":2.3,"hi":4.1,"k":"OII"},{"s":28917,"lo":2.2,"hi":4.0,"k":"OII"}],
 "rt":[
{"s":28709,"v":1.0,"k":"Hα"},{"s":28711,"v":1.45,"k":"Hα"},{"s":28712,"v":1.4,"k":"Hα"},{"s":28714,"v":1.5,"k":"Hα"},{"s":28716,"v":1.85,"k":"Hα"},{"s":28717,"v":2.6,"k":"Hα"},{"s":28719,"v":2.75,"k":"Hα"},{"s":28720,"v":2.9,"k":"Hα"},{"s":28721,"v":2.6,"k":"Hα"},{"s":28722,"v":2.5,"k":"Hα"},{"s":28724,"v":2.2,"k":"Hα"},{"s":28726,"v":2.1,"k":"Hα"},{"s":28728,"v":2.0,"k":"Hα"},{"s":28730,"v":1.9,"k":"Hα"},{"s":28732,"v":1.8,"k":"Hα"},{"s":28734,"v":1.7,"k":"Hα"},{"s":28736,"v":1.6,"k":"Hα"},{"s":28738,"v":1.5,"k":"Hα"},{"s":28740,"v":1.42,"k":"Hα"},{"s":28742,"v":2.1,"k":"Hα"},{"s":28744,"v":2.12,"k":"Hα"},{"s":28746,"v":2.1,"k":"Hα"},{"s":28748,"v":2.12,"k":"Hα"},{"s":28750,"v":2.1,"k":"Hα"},{"s":28752,"v":2.08,"k":"Hα"},{"s":28754,"v":1.6,"k":"Hα"},{"s":28756,"v":1.45,"k":"Hα"},{"s":28758,"v":1.3,"k":"Hα"},{"s":28760,"v":1.2,"k":"Hα"},{"s":28762,"v":1.1,"k":"Hα"},{"s":28764,"v":1.0,"k":"Hα"},{"s":28766,"v":0.95,"k":"Hα"},{"s":28768,"v":0.85,"k":"Hα"},{"s":28770,"v":0.7,"k":"Hα"},{"s":28771,"v":0.55,"k":"Hα"},{"s":28773,"v":0.6,"k":"Hα"},{"s":28776,"v":0.75,"k":"Hα"},{"s":28779,"v":2.5,"k":"Hα"},{"s":28781,"v":2.4,"k":"Hα"},{"s":28783,"v":2.25,"k":"Hα"},{"s":28785,"v":2.1,"k":"Hα"},{"s":28787,"v":1.9,"k":"Hα"},{"s":28789,"v":1.75,"k":"Hα"},{"s":28791,"v":1.6,"k":"Hα"},{"s":28793,"v":1.4,"k":"Hα"},{"s":28795,"v":1.25,"k":"Hα"},{"s":28797,"v":1.1,"k":"Hα"},{"s":28799,"v":0.95,"k":"Hα"},{"s":28801,"v":0.85,"k":"Hα"},{"s":28803,"v":0.78,"k":"Hα"},{"s":28806,"v":0.72,"k":"Hα"},{"s":28809,"v":0.68,"k":"Hα"},{"s":28812,"v":0.65,"k":"Hα"},{"s":28815,"v":0.62,"k":"Hα"},{"s":28818,"v":0.6,"k":"Hα"},{"s":28821,"v":0.57,"k":"Hα"},{"s":28824,"v":0.54,"k":"Hα"},{"s":28827,"v":0.5,"k":"Hα"},{"s":28830,"v":0.47,"k":"Hα"},{"s":28833,"v":0.44,"k":"Hα"},{"s":28836,"v":0.41,"k":"Hα"},{"s":28839,"v":0.38,"k":"Hα"},{"s":28841,"v":0.35,"k":"Hα"},{"s":28828,"v":0.05,"k":"Hα"},{"s":28843,"v":4.3,"k":"Hα"},{"s":28842,"v":0.62,"k":"Hα"},{"s":28846,"v":2.3,"k":"Hα"},{"s":28848,"v":2.2,"k":"Hα"},{"s":28850,"v":2.1,"k":"Hα"},{"s":28852,"v":2.0,"k":"Hα"},{"s":28854,"v":1.9,"k":"Hα"},{"s":28856,"v":1.75,"k":"Hα"},{"s":28858,"v":1.6,"k":"Hα"},{"s":28860,"v":1.45,"k":"Hα"},{"s":28862,"v":1.3,"k":"Hα"},{"s":28864,"v":1.15,"k":"Hα"},{"s":28866,"v":1.05,"k":"Hα"},{"s":28868,"v":1.0,"k":"Hα"},{"s":28870,"v":0.95,"k":"Hα"},{"s":28872,"v":0.9,"k":"Hα"},{"s":28874,"v":0.88,"k":"Hα"},{"s":28876,"v":0.87,"k":"Hα"},{"s":28878,"v":0.85,"k":"Hα"},{"s":28880,"v":0.86,"k":"Hα"},{"s":28882,"v":0.84,"k":"Hα"},{"s":28884,"v":0.85,"k":"Hα"},{"s":28886,"v":0.83,"k":"Hα"},{"s":28888,"v":0.82,"k":"Hα"},{"s":28890,"v":0.8,"k":"Hα"},{"s":28892,"v":1.35,"k":"Hα"},{"s":28894,"v":1.5,"k":"Hα"},{"s":28896,"v":1.6,"k":"Hα"},{"s":28898,"v":1.7,"k":"Hα"},{"s":28900,"v":1.75,"k":"Hα"},{"s":28902,"v":2.0,"k":"Hα"},{"s":28904,"v":2.2,"k":"Hα"},{"s":28906,"v":2.3,"k":"Hα"},{"s":28908,"v":2.5,"k":"Hα"},{"s":28910,"v":2.65,"k":"Hα"},{"s":28912,"v":2.8,"k":"Hα"},{"s":28914,"v":3.0,"k":"Hα"},{"s":28916,"v":3.2,"k":"Hα"},{"s":28918,"v":3.3,"k":"Hα"},{"s":28919,"v":1.7,"k":"Hα"},{"s":28921,"v":0.1,"k":"Hα"},{"s":28922,"v":1.25,"k":"Hα"},{"s":28924,"v":1.0,"k":"Hα"},{"s":28926,"v":0.6,"k":"Hα"},{"s":28928,"v":0.5,"k":"Hα"},{"s":28930,"v":0.45,"k":"Hα"},{"s":28932,"v":0.4,"k":"Hα"},{"s":28934,"v":0.38,"k":"Hα"},{"s":28936,"v":0.35,"k":"Hα"},{"s":28938,"v":0.3,"k":"Hα"},{"s":28940,"v":0.28,"k":"Hα"},{"s":28942,"v":0.3,"k":"Hα"},{"s":28944,"v":0.25,"k":"Hα"},{"s":28946,"v":0.22,"k":"Hα"},
{"s":28709,"v":-0.05,"k":"Hall_Ip"},{"s":28712,"v":-0.05,"k":"Hall_Ip"},{"s":28715,"v":-0.05,"k":"Hall_Ip"},{"s":28718,"v":-0.05,"k":"Hall_Ip"},{"s":28721,"v":-0.05,"k":"Hall_Ip"},{"s":28724,"v":-0.05,"k":"Hall_Ip"},{"s":28727,"v":-0.05,"k":"Hall_Ip"},{"s":28730,"v":-0.05,"k":"Hall_Ip"},{"s":28733,"v":-0.05,"k":"Hall_Ip"},{"s":28736,"v":-0.05,"k":"Hall_Ip"},{"s":28739,"v":-0.05,"k":"Hall_Ip"},{"s":28742,"v":-0.05,"k":"Hall_Ip"},{"s":28745,"v":-0.05,"k":"Hall_Ip"},{"s":28748,"v":-0.05,"k":"Hall_Ip"},{"s":28751,"v":-0.05,"k":"Hall_Ip"},{"s":28754,"v":-0.05,"k":"Hall_Ip"},{"s":28757,"v":-0.05,"k":"Hall_Ip"},{"s":28760,"v":-0.05,"k":"Hall_Ip"},{"s":28763,"v":-0.05,"k":"Hall_Ip"},{"s":28766,"v":-0.05,"k":"Hall_Ip"},{"s":28769,"v":-0.05,"k":"Hall_Ip"},{"s":28772,"v":-0.2,"k":"Hall_Ip"},{"s":28775,"v":-0.3,"k":"Hall_Ip"},{"s":28778,"v":-0.15,"k":"Hall_Ip"},{"s":28781,"v":-0.1,"k":"Hall_Ip"},{"s":28787,"v":-0.05,"k":"Hall_Ip"},{"s":28791,"v":-0.05,"k":"Hall_Ip"},
{"s":28710,"v":-0.05,"k":"Hall_Ip"},{"s":28713,"v":-0.05,"k":"Hall_Ip"},{"s":28716,"v":-0.05,"k":"Hall_Ip"},{"s":28719,"v":-0.05,"k":"Hall_Ip"},{"s":28722,"v":-0.05,"k":"Hall_Ip"},{"s":28725,"v":-0.05,"k":"Hall_Ip"},{"s":28728,"v":-0.05,"k":"Hall_Ip"},{"s":28731,"v":-0.05,"k":"Hall_Ip"},{"s":28734,"v":-0.05,"k":"Hall_Ip"},{"s":28737,"v":-0.05,"k":"Hall_Ip"},{"s":28740,"v":-0.05,"k":"Hall_Ip"},{"s":28743,"v":-0.05,"k":"Hall_Ip"},{"s":28746,"v":-0.05,"k":"Hall_Ip"},{"s":28749,"v":-0.05,"k":"Hall_Ip"},{"s":28752,"v":-0.05,"k":"Hall_Ip"},{"s":28755,"v":-0.05,"k":"Hall_Ip"},{"s":28758,"v":-0.05,"k":"Hall_Ip"},{"s":28761,"v":-0.05,"k":"Hall_Ip"},{"s":28764,"v":-0.05,"k":"Hall_Ip"},{"s":28767,"v":-0.05,"k":"Hall_Ip"},
{"s":28794,"v":-0.1,"k":"Hall_Ip"},{"s":28797,"v":-0.4,"k":"Hall_Ip"},{"s":28800,"v":-0.8,"k":"Hall_Ip"},{"s":28803,"v":-1.2,"k":"Hall_Ip"},{"s":28806,"v":-1.6,"k":"Hall_Ip"},{"s":28809,"v":-2.0,"k":"Hall_Ip"},{"s":28812,"v":-2.6,"k":"Hall_Ip"},{"s":28815,"v":-3.3,"k":"Hall_Ip"},{"s":28818,"v":-4.0,"k":"Hall_Ip"},{"s":28820,"v":-4.6,"k":"Hall_Ip"},{"s":28822,"v":-5.2,"k":"Hall_Ip"},{"s":28824,"v":-5.6,"k":"Hall_Ip"},{"s":28826,"v":-5.9,"k":"Hall_Ip"},{"s":28828,"v":-6.05,"k":"Hall_Ip"},{"s":28830,"v":-6.1,"k":"Hall_Ip"},{"s":28832,"v":-6.1,"k":"Hall_Ip"},{"s":28834,"v":-6.05,"k":"Hall_Ip"},{"s":28836,"v":-5.9,"k":"Hall_Ip"},{"s":28838,"v":-5.8,"k":"Hall_Ip"},{"s":28840,"v":-5.7,"k":"Hall_Ip"},{"s":28842,"v":-5.5,"k":"Hall_Ip"},
{"s":28844,"v":-0.3,"k":"Hall_Ip"},{"s":28847,"v":-0.35,"k":"Hall_Ip"},{"s":28850,"v":-0.3,"k":"Hall_Ip"},{"s":28853,"v":-0.4,"k":"Hall_Ip"},{"s":28856,"v":-0.35,"k":"Hall_Ip"},{"s":28859,"v":-0.4,"k":"Hall_Ip"},{"s":28862,"v":-0.45,"k":"Hall_Ip"},{"s":28865,"v":-0.4,"k":"Hall_Ip"},{"s":28868,"v":-0.5,"k":"Hall_Ip"},{"s":28871,"v":-0.45,"k":"Hall_Ip"},{"s":28874,"v":-0.5,"k":"Hall_Ip"},{"s":28877,"v":-0.55,"k":"Hall_Ip"},{"s":28880,"v":-0.5,"k":"Hall_Ip"},{"s":28883,"v":-0.6,"k":"Hall_Ip"},{"s":28886,"v":-0.55,"k":"Hall_Ip"},{"s":28889,"v":-1.5,"k":"Hall_Ip"},{"s":28891,"v":-1.4,"k":"Hall_Ip"},{"s":28893,"v":-1.3,"k":"Hall_Ip"},{"s":28895,"v":-1.1,"k":"Hall_Ip"},{"s":28897,"v":-1.0,"k":"Hall_Ip"},{"s":28899,"v":-0.9,"k":"Hall_Ip"},{"s":28901,"v":-0.85,"k":"Hall_Ip"},{"s":28903,"v":-0.8,"k":"Hall_Ip"},{"s":28905,"v":-0.8,"k":"Hall_Ip"},{"s":28907,"v":-0.75,"k":"Hall_Ip"},{"s":28909,"v":-0.8,"k":"Hall_Ip"},{"s":28911,"v":-0.75,"k":"Hall_Ip"},{"s":28913,"v":-0.7,"k":"Hall_Ip"},{"s":28915,"v":-0.75,"k":"Hall_Ip"},{"s":28917,"v":-0.7,"k":"Hall_Ip"},{"s":28919,"v":-0.2,"k":"Hall_Ip"},{"s":28921,"v":-0.1,"k":"Hall_Ip"},{"s":28923,"v":-0.1,"k":"Hall_Ip"},{"s":28925,"v":-1.5,"k":"Hall_Ip"},{"s":28926,"v":-3.0,"k":"Hall_Ip"},{"s":28927,"v":-4.5,"k":"Hall_Ip"},{"s":28928,"v":-4.6,"k":"Hall_Ip"},{"s":28929,"v":-3.9,"k":"Hall_Ip"},{"s":28930,"v":-2.7,"k":"Hall_Ip"},{"s":28932,"v":-2.2,"k":"Hall_Ip"},{"s":28934,"v":-1.9,"k":"Hall_Ip"},{"s":28936,"v":-3.9,"k":"Hall_Ip"},{"s":28938,"v":-3.1,"k":"Hall_Ip"},{"s":28940,"v":-3.9,"k":"Hall_Ip"},{"s":28942,"v":-4.0,"k":"Hall_Ip"},{"s":28944,"v":-4.5,"k":"Hall_Ip"},{"s":28946,"v":-3.9,"k":"Hall_Ip"},
{"s":28709,"v":0.05,"k":"OII"},{"s":28710,"v":0.25,"k":"OII"},{"s":28711,"v":0.4,"k":"OII"},{"s":28713,"v":0.45,"k":"OII"},{"s":28715,"v":0.6,"k":"OII"},{"s":28716,"v":0.7,"k":"OII"},{"s":28718,"v":1.13,"k":"OII"},{"s":28720,"v":1.5,"k":"OII"},{"s":28722,"v":1.75,"k":"OII"},{"s":28723,"v":1.95,"k":"OII"},{"s":28724,"v":2.25,"k":"OII"},{"s":28726,"v":2.5,"k":"OII"},{"s":28728,"v":2.8,"k":"OII"},{"s":28730,"v":2.95,"k":"OII"},{"s":28732,"v":3.15,"k":"OII"},{"s":28734,"v":3.2,"k":"OII"},{"s":28736,"v":3.15,"k":"OII"},{"s":28738,"v":3.1,"k":"OII"},{"s":28740,"v":2.9,"k":"OII"},{"s":28741,"v":2.8,"k":"OII"},{"s":28743,"v":2.6,"k":"OII"},{"s":28744,"v":2.5,"k":"OII"},{"s":28746,"v":2.4,"k":"OII"},
{"s":28737,"v":4.72,"k":"OII"},{"s":28739,"v":4.72,"k":"OII"},{"s":28741,"v":4.72,"k":"OII"},{"s":28743,"v":4.72,"k":"OII"},{"s":28745,"v":4.72,"k":"OII"},{"s":28747,"v":4.72,"k":"OII"},{"s":28749,"v":4.72,"k":"OII"},{"s":28751,"v":4.72,"k":"OII"},{"s":28753,"v":4.72,"k":"OII"},{"s":28755,"v":4.72,"k":"OII"},{"s":28757,"v":4.72,"k":"OII"},
{"s":28754,"v":2.9,"k":"OII"},{"s":28755,"v":2.7,"k":"OII"},{"s":28756,"v":2.45,"k":"OII"},{"s":28757,"v":2.3,"k":"OII"},{"s":28758,"v":2.1,"k":"OII"},{"s":28760,"v":1.9,"k":"OII"},{"s":28761,"v":1.75,"k":"OII"},{"s":28762,"v":1.6,"k":"OII"},{"s":28764,"v":1.4,"k":"OII"},{"s":28766,"v":1.25,"k":"OII"},{"s":28767,"v":1.1,"k":"OII"},{"s":28768,"v":0.8,"k":"OII"},{"s":28770,"v":0.95,"k":"OII"},{"s":28771,"v":0.6,"k":"OII"},{"s":28772,"v":0.7,"k":"OII"},{"s":28769,"v":0.05,"k":"OII"},{"s":28777,"v":1.0,"k":"OII"},{"s":28779,"v":0.5,"k":"OII"},{"s":28778,"v":0.05,"k":"OII"},{"s":28780,"v":2.8,"k":"OII"},{"s":28782,"v":2.75,"k":"OII"},{"s":28784,"v":2.9,"k":"OII"},{"s":28786,"v":2.6,"k":"OII"},{"s":28787,"v":2.1,"k":"OII"},{"s":28789,"v":1.9,"k":"OII"},{"s":28790,"v":1.65,"k":"OII"},{"s":28792,"v":1.5,"k":"OII"},{"s":28793,"v":1.35,"k":"OII"},{"s":28794,"v":1.2,"k":"OII"},{"s":28796,"v":1.0,"k":"OII"},{"s":28799,"v":0.88,"k":"OII"},{"s":28801,"v":0.8,"k":"OII"},{"s":28804,"v":0.66,"k":"OII"},{"s":28807,"v":0.6,"k":"OII"},{"s":28811,"v":0.55,"k":"OII"},{"s":28815,"v":0.48,"k":"OII"},{"s":28819,"v":0.42,"k":"OII"},{"s":28823,"v":0.38,"k":"OII"},{"s":28827,"v":0.33,"k":"OII"},{"s":28831,"v":0.28,"k":"OII"},{"s":28835,"v":0.25,"k":"OII"},{"s":28839,"v":0.22,"k":"OII"},{"s":28841,"v":0.0,"k":"OII"},{"s":28843,"v":0.5,"k":"OII"},{"s":28846,"v":0.4,"k":"OII"},
{"s":28848,"v":1.7,"k":"OII"},{"s":28850,"v":1.6,"k":"OII"},{"s":28852,"v":1.5,"k":"OII"},{"s":28854,"v":1.4,"k":"OII"},{"s":28856,"v":2.9,"k":"OII"},{"s":28857,"v":4.27,"k":"OII"},{"s":28858,"v":4.45,"k":"OII"},{"s":28860,"v":4.1,"k":"OII"},{"s":28861,"v":3.4,"k":"OII"},{"s":28863,"v":4.0,"k":"OII"},{"s":28864,"v":3.6,"k":"OII"},{"s":28865,"v":2.75,"k":"OII"},{"s":28866,"v":1.7,"k":"OII"},{"s":28868,"v":1.2,"k":"OII"},{"s":28870,"v":1.05,"k":"OII"},{"s":28872,"v":2.1,"k":"OII"},{"s":28873,"v":0.55,"k":"OII"},{"s":28875,"v":0.9,"k":"OII"},{"s":28877,"v":1.1,"k":"OII"},{"s":28879,"v":1.25,"k":"OII"},{"s":28881,"v":0.8,"k":"OII"},{"s":28883,"v":1.4,"k":"OII"},{"s":28885,"v":1.45,"k":"OII"},{"s":28887,"v":1.5,"k":"OII"},{"s":28889,"v":1.5,"k":"OII"},{"s":28891,"v":1.55,"k":"OII"},{"s":28893,"v":1.5,"k":"OII"},{"s":28895,"v":1.6,"k":"OII"},{"s":28891,"v":4.5,"k":"OII"},{"s":28893,"v":4.4,"k":"OII"},{"s":28897,"v":2.0,"k":"OII"},{"s":28899,"v":2.5,"k":"OII"},{"s":28900,"v":3.0,"k":"OII"},{"s":28901,"v":2.3,"k":"OII"},{"s":28902,"v":3.5,"k":"OII"},{"s":28903,"v":2.8,"k":"OII"},{"s":28904,"v":3.8,"k":"OII"},{"s":28905,"v":3.2,"k":"OII"},{"s":28906,"v":2.6,"k":"OII"},{"s":28907,"v":4.3,"k":"OII"},{"s":28908,"v":3.6,"k":"OII"},{"s":28909,"v":3.0,"k":"OII"},{"s":28910,"v":3.9,"k":"OII"},{"s":28911,"v":3.3,"k":"OII"},{"s":28912,"v":2.9,"k":"OII"},{"s":28913,"v":3.6,"k":"OII"},{"s":28914,"v":3.1,"k":"OII"},{"s":28915,"v":3.4,"k":"OII"},{"s":28916,"v":2.8,"k":"OII"},{"s":28917,"v":3.2,"k":"OII"},{"s":28918,"v":3.25,"k":"OII"},{"s":28919,"v":0.5,"k":"OII"},{"s":28920,"v":0.2,"k":"OII"},{"s":28921,"v":0.85,"k":"OII"},{"s":28922,"v":0.6,"k":"OII"},{"s":28924,"v":0.45,"k":"OII"},{"s":28926,"v":0.4,"k":"OII"},{"s":28928,"v":0.3,"k":"OII"},{"s":28930,"v":0.35,"k":"OII"},{"s":28932,"v":0.25,"k":"OII"},{"s":28934,"v":0.3,"k":"OII"},{"s":28936,"v":0.2,"k":"OII"},{"s":28938,"v":0.25,"k":"OII"},{"s":28940,"v":0.2,"k":"OII"},{"s":28942,"v":0.15,"k":"OII"},{"s":28944,"v":0.2,"k":"OII"},{"s":28946,"v":0.25,"k":"OII"}
 ],
 "rb":[
{"s":28709,"IBT":26.3,"IPF17":0,"IPF26":0,"IPF351":2.5,"IPF352":2.5,"IPF4":0},{"s":28712,"IBT":26.3,"IPF17":0,"IPF26":0,"IPF351":2.5,"IPF352":2.5,"IPF4":0},{"s":28715,"IBT":26.3,"IPF17":0,"IPF26":0,"IPF351":2.5,"IPF352":2.5,"IPF4":0},{"s":28718,"IBT":26.3,"IPF17":0,"IPF26":0,"IPF351":2.5,"IPF352":2.5,"IPF4":0},{"s":28721,"IBT":26.3,"IPF17":0,"IPF26":0,"IPF351":2.5,"IPF352":2.5,"IPF4":0},{"s":28724,"IBT":26.3,"IPF17":0,"IPF26":0,"IPF351":2.5,"IPF352":2.5,"IPF4":0},{"s":28727,"IBT":26.3,"IPF17":0,"IPF26":0,"IPF351":2.5,"IPF352":2.5,"IPF4":0},{"s":28730,"IBT":26.3,"IPF17":0,"IPF26":0,"IPF351":2.5,"IPF352":2.5,"IPF4":0},{"s":28733,"IBT":26.3,"IPF17":0,"IPF26":0,"IPF351":2.5,"IPF352":2.5,"IPF4":0},{"s":28736,"IBT":26.3,"IPF17":0,"IPF26":0,"IPF351":2.5,"IPF352":2.5,"IPF4":0},{"s":28739,"IBT":26.3,"IPF17":0,"IPF26":0,"IPF351":2.5,"IPF352":2.5,"IPF4":0},{"s":28742,"IBT":26.3,"IPF17":0,"IPF26":0,"IPF351":2.5,"IPF352":2.5,"IPF4":0},{"s":28745,"IBT":26.3,"IPF17":0,"IPF26":0,"IPF351":2.5,"IPF352":2.5,"IPF4":0},
{"s":28711,"IBT":26.3,"IPF17":0,"IPF26":0,"IPF351":2.5,"IPF352":2.5,"IPF4":0},{"s":28714,"IBT":26.3,"IPF17":0,"IPF26":0,"IPF351":2.5,"IPF352":2.5,"IPF4":0},{"s":28717,"IBT":26.3,"IPF17":0,"IPF26":0,"IPF351":2.5,"IPF352":2.5,"IPF4":0},{"s":28720,"IBT":26.3,"IPF17":0,"IPF26":0,"IPF351":2.5,"IPF352":2.5,"IPF4":0},{"s":28723,"IBT":26.3,"IPF17":0,"IPF26":0,"IPF351":2.5,"IPF352":2.5,"IPF4":0},{"s":28726,"IBT":26.3,"IPF17":0,"IPF26":0,"IPF351":2.5,"IPF352":2.5,"IPF4":0},{"s":28729,"IBT":26.3,"IPF17":0,"IPF26":0,"IPF351":2.5,"IPF352":2.5,"IPF4":0},{"s":28732,"IBT":26.3,"IPF17":0,"IPF26":0,"IPF351":2.5,"IPF352":2.5,"IPF4":0},{"s":28735,"IBT":26.3,"IPF17":0,"IPF26":0,"IPF351":2.5,"IPF352":2.5,"IPF4":0},{"s":28738,"IBT":26.3,"IPF17":0,"IPF26":0,"IPF351":2.5,"IPF352":2.5,"IPF4":0},{"s":28741,"IBT":26.3,"IPF17":0,"IPF26":0,"IPF351":2.5,"IPF352":2.5,"IPF4":0},{"s":28744,"IBT":26.3,"IPF17":0,"IPF26":0,"IPF351":2.5,"IPF352":2.5,"IPF4":0},
{"s":28747,"IBT":26.3,"IPF17":0,"IPF26":0,"IPF351":1.5,"IPF352":1.5,"IPF4":0},{"s":28750,"IBT":26.3,"IPF17":0,"IPF26":0,"IPF351":1.5,"IPF352":1.5,"IPF4":0},{"s":28753,"IBT":26.3,"IPF17":0,"IPF26":0,"IPF351":1.5,"IPF352":1.5,"IPF4":0},{"s":28748,"IBT":26.3,"IPF17":0,"IPF26":0,"IPF351":1.5,"IPF352":1.5,"IPF4":0},{"s":28751,"IBT":26.3,"IPF17":0,"IPF26":0,"IPF351":1.5,"IPF352":1.5,"IPF4":0},{"s":28754,"IBT":26.3,"IPF17":0,"IPF26":0,"IPF351":1.5,"IPF352":1.5,"IPF4":0},
{"s":28756,"IBT":26.3,"IPF17":0,"IPF26":0,"IPF351":2.5,"IPF352":2.5,"IPF4":0},{"s":28759,"IBT":26.3,"IPF17":0,"IPF26":0,"IPF351":2.5,"IPF352":2.5,"IPF4":0},{"s":28762,"IBT":26.3,"IPF17":0,"IPF26":0,"IPF351":2.5,"IPF352":2.5,"IPF4":0},{"s":28765,"IBT":26.3,"IPF17":0,"IPF26":0,"IPF351":2.5,"IPF352":2.5,"IPF4":0},{"s":28768,"IBT":26.3,"IPF17":0,"IPF26":0,"IPF351":2.5,"IPF352":2.5,"IPF4":0},{"s":28771,"IBT":26.3,"IPF17":0,"IPF26":0,"IPF351":2.5,"IPF352":2.5,"IPF4":0},{"s":28774,"IBT":26.3,"IPF17":0,"IPF26":0,"IPF351":3.0,"IPF352":2.5,"IPF4":0},
{"s":28757,"IBT":26.3,"IPF17":0,"IPF26":0,"IPF351":2.5,"IPF352":2.5,"IPF4":0},{"s":28760,"IBT":26.3,"IPF17":0,"IPF26":0,"IPF351":2.5,"IPF352":2.5,"IPF4":0},{"s":28763,"IBT":26.3,"IPF17":0,"IPF26":0,"IPF351":2.5,"IPF352":2.5,"IPF4":0},{"s":28766,"IBT":26.3,"IPF17":0,"IPF26":0,"IPF351":2.5,"IPF352":2.5,"IPF4":0},{"s":28769,"IBT":26.3,"IPF17":0,"IPF26":0,"IPF351":2.5,"IPF352":2.5,"IPF4":0},{"s":28772,"IBT":26.3,"IPF17":0,"IPF26":0,"IPF351":2.5,"IPF352":2.5,"IPF4":0},
{"s":28777,"IBT":26.3,"IPF17":0,"IPF26":0,"IPF351":0.0,"IPF352":2.5,"IPF4":0},{"s":28778,"IBT":45.2,"IPF17":0,"IPF26":0,"IPF351":3.0,"IPF352":2.5,"IPF4":0},{"s":28780,"IBT":26.3,"IPF17":0,"IPF26":0,"IPF351":3.0,"IPF352":2.5,"IPF4":0},{"s":28783,"IBT":26.3,"IPF17":0,"IPF26":0,"IPF351":3.0,"IPF352":2.5,"IPF4":0},{"s":28786,"IBT":26.3,"IPF17":0,"IPF26":0,"IPF351":3.0,"IPF352":2.5,"IPF4":0},{"s":28789,"IBT":26.3,"IPF17":0,"IPF26":0,"IPF351":3.0,"IPF352":2.5,"IPF4":0},{"s":28792,"IBT":26.3,"IPF17":0,"IPF26":0,"IPF351":3.0,"IPF352":2.5,"IPF4":0},{"s":28795,"IBT":26.3,"IPF17":0,"IPF26":0,"IPF351":3.0,"IPF352":2.5,"IPF4":0},{"s":28798,"IBT":26.3,"IPF17":0,"IPF26":0,"IPF351":3.0,"IPF352":2.5,"IPF4":0},{"s":28801,"IBT":26.3,"IPF17":0,"IPF26":0,"IPF351":3.0,"IPF352":2.5,"IPF4":0},{"s":28804,"IBT":26.3,"IPF17":0,"IPF26":0,"IPF351":3.0,"IPF352":2.5,"IPF4":0},{"s":28807,"IBT":26.3,"IPF17":0,"IPF26":0,"IPF351":3.0,"IPF352":2.5,"IPF4":0},{"s":28810,"IBT":26.3,"IPF17":0,"IPF26":0,"IPF351":3.0,"IPF352":2.5,"IPF4":0},{"s":28813,"IBT":26.3,"IPF17":0,"IPF26":0,"IPF351":3.0,"IPF352":2.5,"IPF4":0},{"s":28816,"IBT":26.3,"IPF17":0,"IPF26":0,"IPF351":3.0,"IPF352":2.5,"IPF4":0},{"s":28819,"IBT":26.3,"IPF17":0,"IPF26":0,"IPF351":3.0,"IPF352":2.5,"IPF4":0},{"s":28822,"IBT":26.3,"IPF17":0,"IPF26":0,"IPF351":3.0,"IPF352":2.5,"IPF4":0},{"s":28825,"IBT":26.3,"IPF17":0,"IPF26":0,"IPF351":3.0,"IPF352":2.5,"IPF4":0},{"s":28828,"IBT":26.3,"IPF17":0,"IPF26":0,"IPF351":3.0,"IPF352":2.5,"IPF4":0},{"s":28831,"IBT":26.3,"IPF17":0,"IPF26":0,"IPF351":3.0,"IPF352":2.5,"IPF4":0},{"s":28834,"IBT":26.3,"IPF17":0,"IPF26":0,"IPF351":3.0,"IPF352":2.5,"IPF4":0},{"s":28837,"IBT":26.3,"IPF17":0,"IPF26":0,"IPF351":3.0,"IPF352":2.5,"IPF4":0},{"s":28840,"IBT":26.3,"IPF17":0,"IPF26":0,"IPF351":3.0,"IPF352":2.5,"IPF4":0},{"s":28842,"IBT":26.3,"IPF17":0,"IPF26":0,"IPF351":3.0,"IPF352":2.5,"IPF4":0},
{"s":28776,"IBT":26.3,"IPF17":0,"IPF26":0,"IPF351":3.0,"IPF352":2.5,"IPF4":0},{"s":28779,"IBT":26.3,"IPF17":0,"IPF26":0,"IPF351":3.0,"IPF352":2.5,"IPF4":0},{"s":28782,"IBT":26.3,"IPF17":0,"IPF26":0,"IPF351":3.0,"IPF352":2.5,"IPF4":0},{"s":28785,"IBT":26.3,"IPF17":0,"IPF26":0,"IPF351":3.0,"IPF352":2.5,"IPF4":0},{"s":28788,"IBT":26.3,"IPF17":0,"IPF26":0,"IPF351":3.0,"IPF352":2.5,"IPF4":0},{"s":28791,"IBT":26.3,"IPF17":0,"IPF26":0,"IPF351":3.0,"IPF352":2.5,"IPF4":0},{"s":28794,"IBT":26.3,"IPF17":0,"IPF26":0,"IPF351":3.0,"IPF352":2.5,"IPF4":0},{"s":28797,"IBT":26.3,"IPF17":0,"IPF26":0,"IPF351":3.0,"IPF352":2.5,"IPF4":0},{"s":28800,"IBT":26.3,"IPF17":0,"IPF26":0,"IPF351":3.0,"IPF352":2.5,"IPF4":0},{"s":28803,"IBT":26.3,"IPF17":0,"IPF26":0,"IPF351":3.0,"IPF352":2.5,"IPF4":0},{"s":28806,"IBT":26.3,"IPF17":0,"IPF26":0,"IPF351":3.0,"IPF352":2.5,"IPF4":0},{"s":28809,"IBT":26.3,"IPF17":0,"IPF26":0,"IPF351":3.0,"IPF352":2.5,"IPF4":0},{"s":28812,"IBT":26.3,"IPF17":0,"IPF26":0,"IPF351":3.0,"IPF352":2.5,"IPF4":0},{"s":28815,"IBT":26.3,"IPF17":0,"IPF26":0,"IPF351":3.0,"IPF352":2.5,"IPF4":0},{"s":28818,"IBT":26.3,"IPF17":0,"IPF26":0,"IPF351":3.0,"IPF352":2.5,"IPF4":0},{"s":28821,"IBT":26.3,"IPF17":0,"IPF26":0,"IPF351":3.0,"IPF352":2.5,"IPF4":0},{"s":28824,"IBT":26.3,"IPF17":0,"IPF26":0,"IPF351":3.0,"IPF352":2.5,"IPF4":0},{"s":28827,"IBT":26.3,"IPF17":0,"IPF26":0,"IPF351":3.0,"IPF352":2.5,"IPF4":0},{"s":28830,"IBT":26.3,"IPF17":0,"IPF26":0,"IPF351":3.0,"IPF352":2.5,"IPF4":0},{"s":28833,"IBT":26.3,"IPF17":0,"IPF26":0,"IPF351":3.0,"IPF352":2.5,"IPF4":0},{"s":28836,"IBT":26.3,"IPF17":0,"IPF26":0,"IPF351":3.0,"IPF352":2.5,"IPF4":0},{"s":28839,"IBT":26.3,"IPF17":0,"IPF26":0,"IPF351":3.0,"IPF352":2.5,"IPF4":0},{"s":28841,"IBT":26.3,"IPF17":0,"IPF26":0,"IPF351":3.0,"IPF352":2.5,"IPF4":0},
{"s":28843,"IBT":30.8,"IPF17":0,"IPF26":0,"IPF351":0,"IPF352":0,"IPF4":0},{"s":28844,"IBT":30.8,"IPF17":0,"IPF26":0,"IPF351":0,"IPF352":0,"IPF4":0},{"s":28845,"IBT":30.8,"IPF17":0,"IPF26":0,"IPF351":0,"IPF352":0,"IPF4":0},
{"s":28847,"IBT":28.8,"IPF17":0.18,"IPF26":0.12,"IPF351":0,"IPF352":0,"IPF4":0},{"s":28850,"IBT":28.8,"IPF17":0.18,"IPF26":0.12,"IPF351":0,"IPF352":0,"IPF4":0},{"s":28853,"IBT":28.8,"IPF17":0.18,"IPF26":0.12,"IPF351":0,"IPF352":0,"IPF4":0},{"s":28856,"IBT":28.8,"IPF17":0.17,"IPF26":0.12,"IPF351":0,"IPF352":0,"IPF4":0},{"s":28859,"IBT":28.8,"IPF17":0.17,"IPF26":0.12,"IPF351":0,"IPF352":0,"IPF4":0},{"s":28862,"IBT":28.8,"IPF17":0.17,"IPF26":0.12,"IPF351":0,"IPF352":0,"IPF4":0},{"s":28865,"IBT":28.8,"IPF17":0.16,"IPF26":0.11,"IPF351":0,"IPF352":0,"IPF4":0},{"s":28868,"IBT":28.8,"IPF17":0.16,"IPF26":0.11,"IPF351":0,"IPF352":0,"IPF4":0},{"s":28871,"IBT":28.8,"IPF17":0.16,"IPF26":0.11,"IPF351":0,"IPF352":0,"IPF4":0},{"s":28874,"IBT":28.8,"IPF17":0.16,"IPF26":0.11,"IPF351":3.0,"IPF352":3.0,"IPF4":0},{"s":28876,"IBT":25.9,"IPF17":0.16,"IPF26":0.11,"IPF351":0,"IPF352":0,"IPF4":0},{"s":28877,"IBT":28.8,"IPF17":0.16,"IPF26":0.11,"IPF351":0,"IPF352":0,"IPF4":0},{"s":28880,"IBT":28.8,"IPF17":0.15,"IPF26":0.11,"IPF351":0,"IPF352":0,"IPF4":0},{"s":28883,"IBT":28.8,"IPF17":0.15,"IPF26":0.1,"IPF351":0,"IPF352":0,"IPF4":0},{"s":28886,"IBT":28.8,"IPF17":0.15,"IPF26":0.1,"IPF351":0,"IPF352":0,"IPF4":0},{"s":28889,"IBT":28.8,"IPF17":0.15,"IPF26":0.1,"IPF351":0,"IPF352":0,"IPF4":0},{"s":28892,"IBT":28.8,"IPF17":0.14,"IPF26":0.1,"IPF351":0,"IPF352":0,"IPF4":0},{"s":28895,"IBT":28.8,"IPF17":0.14,"IPF26":0.1,"IPF351":0,"IPF352":0,"IPF4":0},{"s":28898,"IBT":28.8,"IPF17":0.14,"IPF26":0.1,"IPF351":0,"IPF352":0,"IPF4":0},{"s":28901,"IBT":28.8,"IPF17":0.13,"IPF26":0.09,"IPF351":0,"IPF352":0,"IPF4":0},{"s":28904,"IBT":28.8,"IPF17":0.13,"IPF26":0.09,"IPF351":0,"IPF352":0,"IPF4":0},{"s":28907,"IBT":28.8,"IPF17":0.13,"IPF26":0.09,"IPF351":0,"IPF352":0,"IPF4":0},{"s":28910,"IBT":28.8,"IPF17":0.12,"IPF26":0.09,"IPF351":0,"IPF352":0,"IPF4":0},{"s":28913,"IBT":28.8,"IPF17":0.12,"IPF26":0.09,"IPF351":0,"IPF352":0,"IPF4":0},{"s":28916,"IBT":28.8,"IPF17":0.12,"IPF26":0.09,"IPF351":0,"IPF352":0,"IPF4":0},{"s":28918,"IBT":28.8,"IPF17":0.12,"IPF26":0.09,"IPF351":3.0,"IPF352":0,"IPF4":0},
{"s":28848,"IBT":28.8,"IPF17":0.18,"IPF26":0.12,"IPF351":0,"IPF352":0,"IPF4":0},{"s":28851,"IBT":28.8,"IPF17":0.18,"IPF26":0.12,"IPF351":0,"IPF352":0,"IPF4":0},{"s":28854,"IBT":28.8,"IPF17":0.17,"IPF26":0.12,"IPF351":0,"IPF352":0,"IPF4":0},{"s":28857,"IBT":28.8,"IPF17":0.17,"IPF26":0.12,"IPF351":0,"IPF352":0,"IPF4":0},{"s":28860,"IBT":28.8,"IPF17":0.17,"IPF26":0.12,"IPF351":0,"IPF352":0,"IPF4":0},{"s":28863,"IBT":28.8,"IPF17":0.16,"IPF26":0.11,"IPF351":0,"IPF352":0,"IPF4":0},{"s":28866,"IBT":28.8,"IPF17":0.16,"IPF26":0.11,"IPF351":0,"IPF352":0,"IPF4":0},{"s":28869,"IBT":28.8,"IPF17":0.16,"IPF26":0.11,"IPF351":0,"IPF352":0,"IPF4":0},{"s":28872,"IBT":28.8,"IPF17":0.16,"IPF26":0.11,"IPF351":0,"IPF352":0,"IPF4":0},{"s":28875,"IBT":28.8,"IPF17":0.16,"IPF26":0.11,"IPF351":0,"IPF352":0,"IPF4":0},{"s":28878,"IBT":28.8,"IPF17":0.15,"IPF26":0.11,"IPF351":0,"IPF352":0,"IPF4":0},{"s":28881,"IBT":28.8,"IPF17":0.15,"IPF26":0.1,"IPF351":0,"IPF352":0,"IPF4":0},{"s":28884,"IBT":28.8,"IPF17":0.15,"IPF26":0.1,"IPF351":0,"IPF352":0,"IPF4":0},{"s":28887,"IBT":28.8,"IPF17":0.15,"IPF26":0.1,"IPF351":0,"IPF352":0,"IPF4":0},{"s":28890,"IBT":28.8,"IPF17":0.14,"IPF26":0.1,"IPF351":0,"IPF352":0,"IPF4":0},{"s":28893,"IBT":28.8,"IPF17":0.14,"IPF26":0.1,"IPF351":0,"IPF352":0,"IPF4":0},{"s":28896,"IBT":28.8,"IPF17":0.14,"IPF26":0.1,"IPF351":0,"IPF352":0,"IPF4":0},{"s":28899,"IBT":28.8,"IPF17":0.13,"IPF26":0.09,"IPF351":0,"IPF352":0,"IPF4":0},{"s":28902,"IBT":28.8,"IPF17":0.13,"IPF26":0.09,"IPF351":0,"IPF352":0,"IPF4":0},{"s":28905,"IBT":28.8,"IPF17":0.13,"IPF26":0.09,"IPF351":0,"IPF352":0,"IPF4":0},{"s":28908,"IBT":28.8,"IPF17":0.12,"IPF26":0.09,"IPF351":0,"IPF352":0,"IPF4":0},{"s":28911,"IBT":28.8,"IPF17":0.12,"IPF26":0.09,"IPF351":0,"IPF352":0,"IPF4":0},{"s":28914,"IBT":28.8,"IPF17":0.12,"IPF26":0.09,"IPF351":0,"IPF352":0,"IPF4":0},{"s":28917,"IBT":28.8,"IPF17":0.12,"IPF26":0.09,"IPF351":0,"IPF352":0,"IPF4":0},
{"s":28920,"IBT":31.0,"IPF17":0,"IPF26":0,"IPF351":3.0,"IPF352":2.5,"IPF4":0},{"s":28922,"IBT":26.3,"IPF17":0,"IPF26":0,"IPF351":3.0,"IPF352":2.5,"IPF4":0},{"s":28925,"IBT":26.3,"IPF17":0,"IPF26":0,"IPF351":3.0,"IPF352":2.5,"IPF4":0},{"s":28928,"IBT":26.3,"IPF17":0,"IPF26":0,"IPF351":3.0,"IPF352":2.5,"IPF4":0},{"s":28931,"IBT":26.3,"IPF17":0,"IPF26":0,"IPF351":3.0,"IPF352":2.5,"IPF4":0},{"s":28934,"IBT":26.3,"IPF17":0,"IPF26":0,"IPF351":3.0,"IPF352":2.5,"IPF4":0},{"s":28937,"IBT":50.0,"IPF17":0,"IPF26":0,"IPF351":3.0,"IPF352":2.5,"IPF4":0},{"s":28938,"IBT":50.0,"IPF17":0,"IPF26":0,"IPF351":3.0,"IPF352":2.5,"IPF4":0},{"s":28940,"IBT":26.3,"IPF17":0,"IPF26":0,"IPF351":3.0,"IPF352":2.5,"IPF4":0},{"s":28943,"IBT":26.3,"IPF17":0,"IPF26":0,"IPF351":3.0,"IPF352":2.5,"IPF4":0},{"s":28946,"IBT":26.3,"IPF17":0,"IPF26":0,"IPF351":3.0,"IPF352":2.5,"IPF4":0},
{"s":28921,"IBT":26.3,"IPF17":0,"IPF26":0,"IPF351":3.0,"IPF352":2.5,"IPF4":0},{"s":28923,"IBT":26.3,"IPF17":0,"IPF26":0,"IPF351":3.0,"IPF352":2.5,"IPF4":0},{"s":28926,"IBT":26.3,"IPF17":0,"IPF26":0,"IPF351":3.0,"IPF352":2.5,"IPF4":0},{"s":28929,"IBT":26.3,"IPF17":0,"IPF26":0,"IPF351":3.0,"IPF352":2.5,"IPF4":0},{"s":28932,"IBT":26.3,"IPF17":0,"IPF26":0,"IPF351":3.0,"IPF352":2.5,"IPF4":0},{"s":28935,"IBT":26.3,"IPF17":0,"IPF26":0,"IPF351":3.0,"IPF352":2.5,"IPF4":0},{"s":28939,"IBT":26.3,"IPF17":0,"IPF26":0,"IPF351":3.0,"IPF352":2.5,"IPF4":0},{"s":28941,"IBT":26.3,"IPF17":0,"IPF26":0,"IPF351":3.0,"IPF352":2.5,"IPF4":0},{"s":28944,"IBT":26.3,"IPF17":0,"IPF26":0,"IPF351":3.0,"IPF352":2.5,"IPF4":0},{"s":28947,"IBT":26.3,"IPF17":0,"IPF26":0,"IPF351":3.0,"IPF352":2.5,"IPF4":0}
 ]
},
"resolve":{"scale":{"color":"independent","shape":"independent","stroke":"independent","fill":"independent"}},
"bounds":"flush",
"spacing":132,
"hconcat":[
 {
  "width":323,"height":328,
  "layer":[
   {
    "data":{"name":"left"},
    "transform":[{"filter":"datum.k === 'Hall_Ip'"}],
    "mark":{"type":"point","filled":false,"size":90,"strokeWidth":1.6},
    "encoding":{
     "x":{"field":"s","type":"quantitative","scale":{"domain":[27821,29165],"nice":false,"zero":false},"axis":{"orient":"top","labels":false,"title":null,"values":[28000,28500,29000]}},
     "y":{"field":"v","type":"quantitative","scale":{"domain":[-30,0],"reverse":true,"nice":false,"zero":false},"axis":{"orient":"right","title":"Hall_Ip (kA)","values":[-30,-25,-20,-15,-10,-5,0],"labelExpr":"'' + datum.value","labelFont":"Liberation Serif","titleFont":"Liberation Serif","titleFontWeight":"normal","titlePadding":10}},
     "color":{"field":"k","type":"nominal","scale":{"domain":["Hα","Hall_Ip","OII"],"range":["#ff0000","#0000cc","#00bb00"]},"legend":{"orient":"none","legendX":14,"legendY":10,"title":null,"labelFont":"Liberation Serif","labelFontSize":16,"symbolSize":150,"rowPadding":3}},
     "shape":{"field":"k","type":"nominal","scale":{"domain":["Hα","Hall_Ip","OII"],"range":["triangle-up","circle","triangle-down"]},"legend":{"orient":"none","legendX":14,"legendY":10,"title":null,"labelFont":"Liberation Serif","labelFontSize":16,"symbolSize":150,"rowPadding":3}}
    }
   },
   {
    "layer":[
     {
      "data":{"name":"leftErr"},
      "mark":{"type":"rule","color":"#ff3030","opacity":0.7,"strokeWidth":1.5},
      "encoding":{"x":{"field":"s","type":"quantitative"},"y":{"field":"lo","type":"quantitative"},"y2":{"field":"hi"}}
     },
     {
      "data":{"name":"leftErr"},
      "mark":{"type":"point","shape":"stroke","size":64,"color":"#ff3030","opacity":0.7,"strokeWidth":1.5},
      "encoding":{"x":{"field":"s","type":"quantitative"},"y":{"field":"lo","type":"quantitative"}}
     },
     {
      "data":{"name":"leftErr"},
      "mark":{"type":"point","shape":"stroke","size":64,"color":"#ff3030","opacity":0.7,"strokeWidth":1.5},
      "encoding":{"x":{"field":"s","type":"quantitative"},"y":{"field":"hi","type":"quantitative"}}
     },
     {
      "data":{"name":"left"},
      "transform":[{"filter":"datum.k !== 'Hall_Ip'"}],
      "mark":{"type":"point","filled":false,"size":100,"strokeWidth":1.7},
      "encoding":{
       "x":{"field":"s","type":"quantitative","scale":{"domain":[27821,29165],"nice":false,"zero":false},"axis":{"orient":"bottom","title":"Shot No","format":"d","values":[28000,28500,29000],"labelFont":"Liberation Serif","titleFont":"Liberation Serif","titleFontWeight":"normal","titlePadding":6}},
       "y":{"field":"v","type":"quantitative","scale":{"domain":[0,5],"nice":false,"zero":false},"axis":{"orient":"left","title":"Hα (a.u.)","values":[0,1,2,3,4,5],"format":"d","labelFont":"Liberation Serif","titleFont":"Liberation Serif","titleFontWeight":"normal","titlePadding":29}},
       "color":{"field":"k","type":"nominal"},
       "shape":{"field":"k","type":"nominal"}
      }
     },
     {
      "data":{"name":"annL"},
      "mark":{"type":"rule","strokeWidth":3},
      "encoding":{"x":{"field":"a","type":"quantitative"},"x2":{"field":"b"},"y":{"datum":5.09},"stroke":{"field":"seg","type":"nominal","scale":{"domain":["ECR","RFCD","hot wall"],"range":["#22cc22","#000000","#ff0000"]},"legend":null}}
     },
     {
      "data":{"name":"annL"},
      "mark":{"type":"point","shape":"triangle-left","size":70,"filled":true,"opacity":1},
      "encoding":{"x":{"field":"a","type":"quantitative"},"y":{"datum":5.09},"fill":{"field":"seg","type":"nominal","scale":{"domain":["ECR","RFCD","hot wall"],"range":["#22cc22","#000000","#ff0000"]},"legend":null}}
     },
     {
      "data":{"name":"annL"},
      "mark":{"type":"point","shape":"triangle-right","size":70,"filled":true,"opacity":1},
      "encoding":{"x":{"field":"b","type":"quantitative"},"y":{"datum":5.09},"fill":{"field":"seg","type":"nominal","legend":null}}
     },
     {
      "data":{"name":"annL"},
      "mark":{"type":"text","font":"Liberation Serif","fontSize":22,"color":"#000","baseline":"middle"},
      "encoding":{"x":{"field":"m","type":"quantitative"},"y":{"datum":5.33},"text":{"field":"seg"}}
     }
    ]
   }
  ],
  "resolve":{"scale":{"y":"independent"},"axis":{"x":"independent"}}
 },
 {
  "spacing":18,
  "bounds":"flush",
  "resolve":{"scale":{"color":"independent","shape":"independent","stroke":"independent","fill":"independent"}},
  "vconcat":[
   {
    "width":315,"height":211,
    "layer":[
     {
      "data":{"name":"rt"},
      "transform":[{"filter":"datum.k === 'Hall_Ip'"}],
      "mark":{"type":"point","filled":false,"size":90,"strokeWidth":1.6},
      "encoding":{
       "x":{"field":"s","type":"quantitative","scale":{"domain":[28708,28947],"nice":false,"zero":false},"axis":{"orient":"top","labels":false,"title":null,"values":[28750,28800,28850,28900]}},
       "y":{"field":"v","type":"quantitative","scale":{"domain":[-10,0],"reverse":true,"nice":false,"zero":false},"axis":{"orient":"right","title":"Hall_Ip (kA)","values":[-10,-8,-6,-4,-2,0],"labelExpr":"'' + datum.value","labelFont":"Liberation Serif","titleFont":"Liberation Serif","titleFontWeight":"normal","titlePadding":2}},
       "color":{"field":"k","type":"nominal","scale":{"domain":["Hα","Hall_Ip","OII"],"range":["#ff0000","#0000cc","#00bb00"]},"legend":{"orient":"none","legendX":372,"legendY":53,"title":null,"labelFont":"Liberation Serif","labelFontSize":16,"symbolSize":140,"rowPadding":0}},
       "shape":{"field":"k","type":"nominal","scale":{"domain":["Hα","Hall_Ip","OII"],"range":["triangle-up","circle","triangle-down"]},"legend":{"orient":"none","legendX":372,"legendY":53,"title":null,"labelFont":"Liberation Serif","labelFontSize":16,"symbolSize":140,"rowPadding":0}}
      }
     },
     {
      "layer":[
       {
        "data":{"name":"vl"},
        "mark":{"type":"rule","color":"#000","strokeWidth":1},
        "encoding":{"x":{"field":"s","type":"quantitative"}}
       },
       {
        "data":{"name":"rtErr"},
        "mark":{"type":"rule","opacity":0.6,"strokeWidth":1.5},
        "encoding":{"x":{"field":"s","type":"quantitative"},"y":{"field":"lo","type":"quantitative"},"y2":{"field":"hi"},"color":{"field":"k","type":"nominal"}}
       },
       {
        "data":{"name":"rtErr"},
        "mark":{"type":"point","shape":"stroke","size":64,"opacity":0.7,"strokeWidth":1.5},
        "encoding":{"x":{"field":"s","type":"quantitative"},"y":{"field":"lo","type":"quantitative"},"color":{"field":"k","type":"nominal"}}
       },
       {
        "data":{"name":"rtErr"},
        "mark":{"type":"point","shape":"stroke","size":64,"opacity":0.7,"strokeWidth":1.5},
        "encoding":{"x":{"field":"s","type":"quantitative"},"y":{"field":"hi","type":"quantitative"},"color":{"field":"k","type":"nominal"}}
       },
       {
        "data":{"name":"rt"},
        "transform":[{"filter":"datum.k !== 'Hall_Ip'"}],
        "mark":{"type":"point","filled":false,"size":100,"strokeWidth":1.6},
        "encoding":{
         "x":{"field":"s","type":"quantitative","scale":{"domain":[28708,28947],"nice":false,"zero":false},"axis":{"orient":"bottom","labels":false,"title":null,"values":[28750,28800,28850,28900]}},
         "y":{"field":"v","type":"quantitative","scale":{"domain":[0,5],"nice":false,"zero":false},"axis":{"orient":"left","title":"Hα, OII (a.u.)","values":[0,1,2,3,4,5],"format":"d","labelFont":"Liberation Serif","titleFont":"Liberation Serif","titleFontWeight":"normal","titlePadding":16}},
         "color":{"field":"k","type":"nominal"},
         "shape":{"field":"k","type":"nominal"}
        }
       },
       {
        "data":{"name":"annR"},
        "mark":{"type":"rule","strokeWidth":3,"color":"#ffa500"},
        "encoding":{"x":{"field":"a","type":"quantitative"},"x2":{"field":"b"},"y":{"datum":5.21}}
       },
       {
        "data":{"name":"annR"},
        "mark":{"type":"point","shape":"triangle-left","size":70,"filled":true,"color":"#ffa500","opacity":1},
        "encoding":{"x":{"field":"a","type":"quantitative"},"y":{"datum":5.21}}
       },
       {
        "data":{"name":"annR"},
        "mark":{"type":"point","shape":"triangle-right","size":70,"filled":true,"color":"#ffa500","opacity":1},
        "encoding":{"x":{"field":"b","type":"quantitative"},"y":{"datum":5.21}}
       },
       {
        "data":{"name":"annR"},
        "mark":{"type":"text","font":"Liberation Serif","fontSize":22,"color":"#000","baseline":"middle"},
        "encoding":{"x":{"field":"m","type":"quantitative"},"y":{"datum":5.47},"text":{"field":"seg"}}
       }
      ]
     }
    ],
    "resolve":{"scale":{"y":"independent"},"axis":{"x":"independent"}}
   },
   {
    "width":315,"height":114,
    "data":{"name":"rb"},
    "transform":[{"fold":["IBT","IPF17","IPF26","IPF351","IPF352","IPF4"],"as":["key","val"]}],
    "layer":[
     {"data":{"name":"vl"},"mark":{"type":"rule","color":"#000","strokeWidth":1},"encoding":{"x":{"field":"s","type":"quantitative","scale":{"domain":[28708,28947],"nice":false,"zero":false},"axis":{"orient":"bottom","title":"Shot No","format":"d","values":[28750,28800,28850,28900],"labelFont":"Liberation Serif","titleFont":"Liberation Serif","titleFontWeight":"normal","titlePadding":6}}}},
     {
      "transform":[{"filter":"datum.key === 'IBT'"}],
      "mark":{"type":"point","size":60,"strokeWidth":1.5},
      "encoding":{
       "x":{"field":"s","type":"quantitative"},
       "y":{"field":"val","type":"quantitative","scale":{"domain":[-2.4,52.6],"nice":false,"zero":false},"axis":{"orient":"left","title":"IBT (kA)","values":[0,10,20,30,40,50],"labelFont":"Liberation Serif","titleFont":"Liberation Serif","titleFontWeight":"normal","titlePadding":6}},
       "stroke":{"field":"key","type":"nominal","scale":{"domain":["IBT","IPF17","IPF26","IPF351","IPF352","IPF4"],"range":["#ff0000","#1a66ff","#00bb00","#ffa500","#000000","#ff0000"]},"legend":{"orient":"none","legendX":370,"legendY":6,"title":null,"labelFont":"Liberation Serif","labelFontSize":15,"symbolSize":110,"rowPadding":0}},
       "fill":{"field":"key","type":"nominal","scale":{"domain":["IBT","IPF17","IPF26","IPF351","IPF352","IPF4"],"range":["transparent","#1a66ff","#00bb00","transparent","#000000","transparent"]},"legend":{"orient":"none","legendX":370,"legendY":6,"title":null,"labelFont":"Liberation Serif","labelFontSize":15,"symbolSize":110,"rowPadding":0}},
       "shape":{"field":"key","type":"nominal","scale":{"domain":["IBT","IPF17","IPF26","IPF351","IPF352","IPF4"],"range":["circle","circle","circle","circle","circle","M-1,0H1M0,-1V1"]},"legend":{"orient":"none","legendX":370,"legendY":6,"title":null,"labelFont":"Liberation Serif","labelFontSize":15,"symbolSize":110,"rowPadding":0}}
      }
     },
     {
      "transform":[{"filter":"datum.key !== 'IBT'"}],
      "mark":{"type":"point","size":60,"strokeWidth":1.5},
      "encoding":{
       "x":{"field":"s","type":"quantitative"},
       "y":{"field":"val","type":"quantitative","scale":{"domain":[-0.173,3.79],"nice":false,"zero":false},"axis":{"orient":"right","title":"IPF17, IPF26, IPF351,2, IPF4 (kA)","titleFontSize":15,"values":[0,1,2,3],"format":".1f","labelFont":"Liberation Serif","titleFont":"Liberation Serif","titleFontWeight":"normal","titlePadding":6}},
       "stroke":{"field":"key","type":"nominal"},
       "fill":{"field":"key","type":"nominal"},
       "shape":{"field":"key","type":"nominal"},
       "order":{"field":"key","type":"nominal"}
      }
     }
    ],
    "resolve":{"scale":{"y":"independent"}}
   }
  ]
 }
]
}
